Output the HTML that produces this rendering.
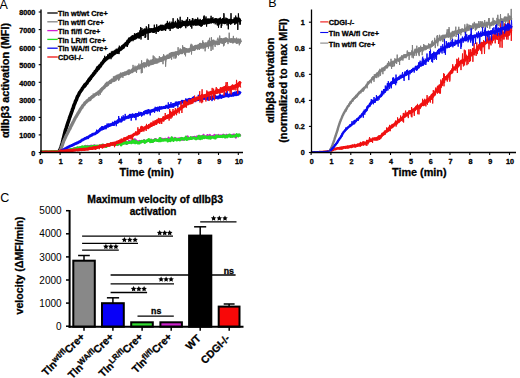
<!DOCTYPE html><html><head><meta charset="utf-8"><style>html,body{margin:0;padding:0;background:#fff;}svg{display:block;}text{font-family:"Liberation Sans", sans-serif;}text[font-weight=bold]{stroke:#000;stroke-width:0.3px;}</style></head><body>
<svg width="520" height="378" viewBox="0 0 520 378">
<text x="-0.5" y="8.7" font-size="12.5" fill="#000">A</text>
<polyline points="40.3,151.7 40.8,151.8 41.3,151.7 41.8,151.6 42.3,151.8 42.8,151.7 43.3,151.7 43.8,151.7 44.3,151.7 44.8,151.7 45.2,151.7 45.7,151.7 46.2,151.6 46.7,151.6 47.2,151.6 47.7,151.7 48.2,151.6 48.7,151.6 49.2,151.5 49.7,151.6 50.2,151.6 50.7,151.5 51.2,151.6 51.7,151.6 52.2,151.3 52.7,151.3 53.2,151.4 53.7,151.4 54.2,151.4 54.7,151.4 55.1,151.5 55.6,151.2 56.1,151.2 56.6,151.4 57.1,151.3 57.6,151.2 58.1,151.1 58.6,151.0 59.1,150.9 59.6,150.4" fill="none" stroke="#000" stroke-width="1.0" stroke-linejoin="round"/>
<polyline points="58.7,151.0 59.2,150.8 59.7,150.1 60.2,149.3 60.7,147.9 61.2,146.6 61.7,144.8 62.2,143.2 62.7,141.2 63.2,139.3 63.7,137.2 64.2,135.1 64.7,133.3 65.1,131.5 65.6,129.6 66.1,128.3 66.6,126.7 67.1,125.4 67.6,123.6 68.1,122.2 68.6,120.8 69.1,119.3 69.6,117.6 70.1,116.5 70.6,115.0 71.1,113.6 71.6,112.2 72.1,110.8 72.6,109.1 73.1,108.2 73.6,106.4 74.1,104.8 74.6,103.9 75.0,102.9 75.5,101.3 76.0,100.5 76.5,99.4 77.0,97.8 77.5,96.5 78.0,95.7 78.5,95.2 79.0,93.8 79.5,92.7 80.0,91.9 80.5,91.4 81.0,90.6 81.5,90.0 82.0,89.3 82.5,88.2 83.0,87.7 83.5,86.8 84.0,86.5 84.5,85.5 84.9,84.9 85.4,85.1 85.9,83.9 86.4,83.4 86.9,83.3 87.4,82.2 87.9,81.3 88.4,80.7 88.9,79.8 89.4,79.7 89.9,78.6 90.4,78.6 90.9,77.4 91.4,76.7 91.9,76.0 92.4,75.7 92.9,74.9 93.4,74.7 93.9,73.4 94.4,73.0 94.8,72.9 95.3,71.5 95.8,71.1 96.3,70.9 96.8,69.9 97.3,68.8 97.8,67.7 98.3,68.7 98.8,67.4 99.3,67.1 99.8,65.8 100.3,66.1 100.8,65.0 101.3,64.3 101.8,63.3 102.3,63.2 102.8,62.3 103.3,61.9 103.8,60.7 104.3,60.7 104.7,60.4 105.2,59.3 105.7,59.4 106.2,59.2 106.7,58.3 107.2,57.8 107.7,57.4 108.2,57.7 108.7,56.2 109.2,56.4 109.7,56.0 110.2,55.9 110.7,55.5 111.2,54.6 111.7,55.8 112.2,54.6 112.7,53.5 113.2,53.4 113.7,53.6 114.2,53.5 114.6,52.2 115.1,52.8 115.6,51.4 116.1,51.4 116.6,51.9 117.1,52.0 117.6,50.8 118.1,50.3 118.6,50.8 119.1,49.2 119.6,49.6 120.1,49.2 120.6,49.3 121.1,48.6 121.6,47.9 122.1,48.0 122.6,46.6 123.1,47.3 123.6,46.0 124.1,45.3 124.5,45.1 125.0,44.8 125.5,44.7 126.0,43.6 126.5,43.6 127.0,43.3 127.5,42.1 128.0,41.1 128.5,41.8 129.0,41.0 129.5,39.1 130.0,39.4 130.5,39.8 131.0,38.5 131.5,38.5 132.0,37.5 132.5,38.5 133.0,38.1 133.5,37.8 134.0,38.3 134.4,36.8 134.9,36.5 135.4,37.8 135.9,35.3 136.4,36.4 136.9,34.8 137.4,35.5 137.9,36.6 138.4,35.1 138.9,34.1 139.4,36.1 139.9,33.8 140.4,33.9 140.9,34.0 141.4,32.6 141.9,34.2 142.4,34.3 142.9,33.5 143.4,33.1 143.9,32.5 144.3,33.1 144.8,30.0 145.3,32.0 145.8,32.1 146.3,30.3 146.8,32.0 147.3,31.4 147.8,31.3 148.3,31.3 148.8,31.5 149.3,31.3 149.8,30.0 150.3,30.6 150.8,30.4 151.3,30.4 151.8,29.8 152.3,30.9 152.8,31.1 153.3,31.1 153.8,31.3 154.2,30.9 154.7,29.2 155.2,29.0 155.7,29.0 156.2,29.7 156.7,29.0 157.2,29.8 157.7,30.2 158.2,28.4 158.7,29.4 159.2,28.1 159.7,27.3 160.2,27.2 160.7,27.8 161.2,26.4 161.7,28.3 162.2,29.0 162.7,26.6 163.2,27.2 163.7,28.7 164.1,27.5 164.6,27.3 165.1,26.8 165.6,27.8 166.1,27.1 166.6,25.8 167.1,24.5 167.6,24.2 168.1,26.9 168.6,26.0 169.1,27.4 169.6,26.5 170.1,24.9 170.6,26.1 171.1,26.8 171.6,24.9 172.1,25.2 172.6,27.0 173.1,23.9 173.6,24.4 174.0,26.1 174.5,25.3 175.0,24.1 175.5,23.8 176.0,25.3 176.5,25.9 177.0,25.5 177.5,25.1 178.0,25.9 178.5,24.9 179.0,23.8 179.5,26.2 180.0,23.4 180.5,24.2 181.0,24.2 181.5,25.4 182.0,23.5 182.5,23.9 183.0,22.5 183.5,24.3 183.9,24.3 184.4,24.4 184.9,23.0 185.4,23.9 185.9,23.0 186.4,23.2 186.9,23.5 187.4,24.6 187.9,23.1 188.4,23.6 188.9,22.7 189.4,22.8 189.9,22.7 190.4,23.1 190.9,23.8 191.4,22.2 191.9,23.7 192.4,22.2 192.9,23.3 193.4,22.5 193.8,22.6 194.3,22.5 194.8,23.7 195.3,22.9 195.8,23.6 196.3,22.3 196.8,22.3 197.3,23.8 197.8,21.1 198.3,21.6 198.8,22.2 199.3,23.8 199.8,21.7 200.3,22.8 200.8,23.4 201.3,21.9 201.8,21.9 202.3,23.4 202.8,21.4 203.3,21.0 203.7,22.5 204.2,21.3 204.7,22.8 205.2,22.1 205.7,20.2 206.2,21.8 206.7,21.6 207.2,21.0 207.7,22.4 208.2,20.0 208.7,20.4 209.2,21.0 209.7,22.0 210.2,20.1 210.7,20.8 211.2,20.7 211.7,20.0 212.2,21.0 212.7,20.3 213.2,20.9 213.6,21.5 214.1,20.5 214.6,20.5 215.1,20.4 215.6,20.5 216.1,19.9 216.6,20.2 217.1,21.3 217.6,20.5 218.1,24.0 218.6,20.5 219.1,21.6 219.6,19.9 220.1,21.0 220.6,20.8 221.1,21.1 221.6,22.3 222.1,21.1 222.6,20.2 223.1,21.3 223.5,20.4 224.0,21.1 224.5,22.5 225.0,22.0 225.5,22.1 226.0,21.7 226.5,21.2 227.0,19.9 227.5,20.8 228.0,20.7 228.5,21.8 229.0,22.0 229.5,21.6 230.0,20.5 230.5,22.7 231.0,22.3 231.5,20.9 232.0,21.2 232.5,21.6 233.0,21.1 233.4,20.8 233.9,21.3 234.4,20.8 234.9,20.9 235.4,19.3 235.9,19.2 236.4,21.9 236.9,19.1 237.4,20.6 237.9,20.4 238.4,20.2 238.9,19.4 239.4,20.7 239.9,20.0 240.4,19.4" fill="none" stroke="#000" stroke-width="3.6" stroke-linejoin="round"/>
<polyline points="58.7,151.0 59.0,150.7 59.3,150.5 59.6,150.5 59.9,149.9 60.2,149.3 60.5,148.8 60.8,147.9 61.1,147.0 61.4,146.1 61.7,144.3 62.0,144.0 62.3,142.4 62.6,141.5 62.9,139.9 63.2,138.8 63.5,137.9 63.8,137.1 64.1,135.5 64.4,134.1 64.7,133.2 65.0,132.3 65.2,131.1 65.5,130.0 65.8,128.8 66.1,128.3 66.4,127.4 66.7,126.2 67.0,125.1 67.3,124.8 67.6,123.3 67.9,121.7 68.2,121.7 68.5,121.1 68.8,120.0 69.1,119.7 69.4,118.5 69.7,117.7 70.0,116.9 70.3,115.9 70.6,114.6 70.9,113.8 71.2,113.8 71.5,113.9 71.8,111.4 72.1,110.2 72.4,109.4 72.7,108.7 73.0,108.5 73.3,107.7 73.6,107.1 73.9,106.5 74.2,105.1 74.5,104.3 74.8,103.2 75.0,102.5 75.3,102.7 75.6,101.3 75.9,100.6 76.2,99.6 76.5,98.8 76.8,98.6 77.1,98.3 77.4,97.2 77.7,96.7 78.0,97.0 78.3,95.2 78.6,94.6 78.9,94.1 79.2,93.4 79.5,93.3 79.8,93.1 80.1,91.6 80.4,92.2 80.7,90.9 81.0,90.4 81.3,89.1 81.6,88.5 81.9,89.6 82.2,88.3 82.5,88.8 82.8,88.0 83.1,87.7 83.4,87.9 83.7,87.9 84.0,84.8 84.3,83.7 84.6,86.2 84.9,87.7 85.1,86.6 85.4,84.2 85.7,83.4 86.0,85.6 86.3,82.4 86.6,82.3 86.9,82.7 87.2,82.3 87.5,81.7 87.8,82.0 88.1,80.3 88.4,80.0 88.7,81.7 89.0,81.9 89.3,79.3 89.6,81.7 89.9,78.4 90.2,78.8 90.5,77.6 90.8,80.0 91.1,76.9 91.4,76.6 91.7,77.5 92.0,77.7 92.3,74.9 92.6,74.8 92.9,74.6 93.2,75.2 93.5,72.4 93.8,72.6 94.1,73.3 94.4,73.2 94.7,72.9 94.9,71.9 95.2,70.7 95.5,71.9 95.8,71.3 96.1,69.8 96.4,68.6 96.7,71.1 97.0,71.1 97.3,68.2 97.6,70.7 97.9,68.0 98.2,68.2 98.5,68.2 98.8,66.5 99.1,68.3 99.4,64.7 99.7,66.7 100.0,66.8 100.3,64.3 100.6,64.3 100.9,65.5 101.2,63.6 101.5,64.3 101.8,63.6 102.1,62.7 102.4,64.1 102.7,64.8 103.0,61.9 103.3,61.8 103.6,61.8 103.9,58.0 104.2,58.2 104.5,59.6 104.7,55.8 105.0,60.9 105.3,61.0 105.6,60.5 105.9,57.6 106.2,56.9 106.5,59.2 106.8,57.9 107.1,58.9 107.4,56.9 107.7,54.5 108.0,56.7 108.3,56.5 108.6,56.0 108.9,57.6 109.2,53.2 109.5,53.0 109.8,58.3 110.1,57.9 110.4,54.9 110.7,53.9 111.0,59.2 111.3,51.7 111.6,54.1 111.9,54.4 112.2,50.9 112.5,55.5 112.8,53.6 113.1,54.9 113.4,54.2 113.7,55.8 114.0,54.3 114.3,52.8 114.6,53.9 114.8,51.4 115.1,51.7 115.4,53.5 115.7,49.9 116.0,52.3 116.3,48.7 116.6,50.9 116.9,50.5 117.2,52.4 117.5,49.3 117.8,54.0 118.1,51.0 118.4,49.8 118.7,50.0 119.0,54.1 119.3,45.7 119.6,47.8 119.9,49.6 120.2,48.1 120.5,48.4 120.8,48.7 121.1,49.2 121.4,50.1 121.7,48.3 122.0,47.8 122.3,48.4 122.6,47.5 122.9,45.1 123.2,46.0 123.5,45.0 123.8,46.9 124.1,47.3 124.4,46.0 124.6,44.1 124.9,45.8 125.2,43.5 125.5,44.6 125.8,42.6 126.1,42.0 126.4,41.7 126.7,46.2 127.0,41.9 127.3,47.0 127.6,40.5 127.9,45.2 128.2,40.7 128.5,42.7 128.8,42.2 129.1,40.5 129.4,40.6 129.7,40.6 130.0,40.6 130.3,39.5 130.6,41.0 130.9,38.8 131.2,36.8 131.5,39.3 131.8,38.6 132.1,39.6 132.4,39.1 132.7,35.1 133.0,41.2 133.3,37.9 133.6,36.7 133.9,35.8 134.2,36.1 134.4,33.3 134.7,33.9 135.0,36.1 135.3,35.2 135.6,36.2 135.9,35.1 136.2,36.1 136.5,35.5 136.8,37.4 137.1,35.1 137.4,35.1 137.7,35.3 138.0,32.6 138.3,36.9 138.6,36.8 138.9,35.4 139.2,38.7 139.5,35.9 139.8,30.4 140.1,33.8 140.4,33.6 140.7,27.1 141.0,39.5 141.3,33.4 141.6,33.4 141.9,28.0 142.2,32.4 142.5,29.9 142.8,33.3 143.1,36.1 143.4,34.2 143.7,32.3 144.0,31.3 144.3,32.5 144.5,32.9 144.8,32.1 145.1,38.0 145.4,30.7 145.7,37.2 146.0,32.1 146.3,26.3 146.6,31.3 146.9,27.5 147.2,32.7 147.5,31.5 147.8,32.2 148.1,39.9 148.4,28.7 148.7,24.3 149.0,31.1 149.3,29.4 149.6,31.0 149.9,28.3 150.2,30.9 150.5,32.6 150.8,32.2 151.1,28.7 151.4,29.9 151.7,31.7 152.0,29.2 152.3,28.7 152.6,28.7 152.9,31.8 153.2,29.4 153.5,28.2 153.8,31.5 154.1,31.5 154.3,24.7 154.6,31.2 154.9,28.5 155.2,30.7 155.5,31.7 155.8,30.6 156.1,33.9 156.4,31.8 156.7,24.4 157.0,28.4 157.3,28.8 157.6,30.6 157.9,27.6 158.2,28.5 158.5,31.9 158.8,29.9 159.1,29.7 159.4,27.6 159.7,29.8 160.0,26.3 160.3,25.7 160.6,26.5 160.9,30.4 161.2,28.3 161.5,30.6 161.8,27.2 162.1,28.5 162.4,25.3 162.7,24.9 163.0,29.8 163.3,29.0 163.6,26.2 163.9,26.6 164.1,28.1 164.4,26.7 164.7,27.3 165.0,25.3 165.3,23.9 165.6,31.0 165.9,27.1 166.2,27.1 166.5,27.6 166.8,28.9 167.1,28.1 167.4,20.9 167.7,26.3 168.0,26.5 168.3,27.6 168.6,29.1 168.9,26.9 169.2,26.5 169.5,28.4 169.8,21.6 170.1,31.0 170.4,26.5 170.7,27.0 171.0,25.8 171.3,24.3 171.6,26.8 171.9,21.7 172.2,24.2 172.5,23.2 172.8,26.4 173.1,18.2 173.4,26.5 173.7,27.9 174.0,25.6 174.2,25.6 174.5,25.4 174.8,27.4 175.1,23.7 175.4,20.9 175.7,26.2 176.0,25.0 176.3,24.1 176.6,26.1 176.9,28.3 177.2,23.3 177.5,18.5 177.8,26.4 178.1,29.0 178.4,26.9 178.7,19.8 179.0,25.8 179.3,21.6 179.6,21.8 179.9,25.1 180.2,16.8 180.5,28.2 180.8,24.0 181.1,27.5 181.4,23.8 181.7,26.0 182.0,19.9 182.3,21.4 182.6,24.1 182.9,25.7 183.2,23.2 183.5,26.0 183.8,22.1 184.0,21.4 184.3,23.1 184.6,24.9 184.9,23.2 185.2,20.7 185.5,25.9 185.8,28.2 186.1,26.0 186.4,19.5 186.7,24.1 187.0,22.1 187.3,26.1 187.6,17.2 187.9,21.0 188.2,25.0 188.5,24.4 188.8,25.4 189.1,23.6 189.4,21.7 189.7,19.0 190.0,25.8 190.3,26.1 190.6,26.7 190.9,25.0 191.2,23.9 191.5,25.6 191.8,28.6 192.1,24.1 192.4,18.0 192.7,22.4 193.0,18.5 193.3,25.5 193.6,21.8 193.8,24.7 194.1,22.8 194.4,19.9 194.7,19.6 195.0,21.6 195.3,18.9 195.6,23.1 195.9,25.7 196.2,19.0 196.5,25.0 196.8,23.0 197.1,21.0 197.4,23.7 197.7,17.6 198.0,20.1 198.3,21.2 198.6,21.7 198.9,22.8 199.2,23.8 199.5,23.3 199.8,25.8 200.1,18.9 200.4,21.9 200.7,26.5 201.0,21.6 201.3,20.0 201.6,26.6 201.9,20.4 202.2,25.9 202.5,24.9 202.8,19.6 203.1,20.8 203.4,24.3 203.7,16.5 203.9,22.4 204.2,15.5 204.5,23.4 204.8,24.3 205.1,23.4 205.4,21.9 205.7,21.4 206.0,16.5 206.3,23.3 206.6,26.6 206.9,20.9 207.2,21.8 207.5,19.8 207.8,23.7 208.1,23.9 208.4,23.4 208.7,22.0 209.0,22.3 209.3,19.2 209.6,20.8 209.9,21.0 210.2,21.2 210.5,22.5 210.8,20.7 211.1,15.8 211.4,23.4 211.7,20.9 212.0,20.3 212.3,18.0 212.6,19.1 212.9,17.2 213.2,21.8 213.5,22.2 213.7,21.3 214.0,21.9 214.3,20.5 214.6,21.4 214.9,18.4 215.2,24.3 215.5,18.5 215.8,20.7 216.1,19.8 216.4,21.2 216.7,22.5 217.0,22.8 217.3,21.8 217.6,23.7 217.9,21.9 218.2,23.0 218.5,27.7 218.8,21.7 219.1,20.4 219.4,21.3 219.7,20.3 220.0,20.8 220.3,17.5 220.6,23.2 220.9,20.8 221.2,27.9 221.5,24.4 221.8,25.7 222.1,23.4 222.4,21.8 222.7,18.2 223.0,21.2 223.3,20.8 223.5,19.3 223.8,13.2 224.1,14.0 224.4,19.5 224.7,22.4 225.0,22.2 225.3,22.3 225.6,23.1 225.9,17.6 226.2,20.8 226.5,21.8 226.8,20.1 227.1,25.4 227.4,19.9 227.7,21.5 228.0,21.1 228.3,29.3 228.6,21.9 228.9,21.6 229.2,21.2 229.5,19.9 229.8,21.4 230.1,22.6 230.4,22.0 230.7,24.6 231.0,13.2 231.3,22.3 231.6,21.5 231.9,21.6 232.2,19.7 232.5,22.3 232.8,22.3 233.1,20.6 233.4,21.9 233.6,19.4 233.9,20.7 234.2,17.5 234.5,20.3 234.8,24.9 235.1,21.9 235.4,23.6 235.7,15.6 236.0,21.0 236.3,20.9 236.6,19.8 236.9,21.6 237.2,19.1 237.5,20.4 237.8,29.9 238.1,21.0 238.4,13.4 238.7,17.5 239.0,20.7 239.3,19.5 239.6,18.0 239.9,24.7 240.2,19.0 240.5,24.5" fill="none" stroke="#000" stroke-width="1.0" stroke-linejoin="round"/>
<polyline points="40.3,151.7 40.8,151.7 41.3,151.7 41.8,151.5 42.3,151.8 42.8,151.8 43.3,151.7 43.8,151.8 44.3,151.7 44.8,151.6 45.2,151.8 45.7,151.7 46.2,151.6 46.7,151.6 47.2,151.7 47.7,151.6 48.2,151.7 48.7,151.6 49.2,151.6 49.7,151.5 50.2,151.6 50.7,151.6 51.2,151.6 51.7,151.6 52.2,151.4 52.7,151.5 53.2,151.6 53.7,151.3 54.2,151.3 54.7,151.3 55.1,151.4 55.6,151.4 56.1,151.4 56.6,151.3 57.1,151.3 57.6,151.2 58.1,151.2 58.6,151.2 59.1,151.0 59.6,151.0" fill="none" stroke="#808080" stroke-width="1.0" stroke-linejoin="round"/>
<polyline points="58.7,151.1 59.2,151.1 59.7,150.8 60.2,150.4 60.7,149.5 61.2,148.2 61.7,146.9 62.2,145.4 62.7,143.9 63.2,142.4 63.7,140.9 64.2,140.1 64.7,138.9 65.1,138.2 65.6,137.0 66.1,135.9 66.6,134.8 67.1,134.0 67.6,132.8 68.1,132.1 68.6,130.9 69.1,130.0 69.6,128.8 70.1,128.4 70.6,127.0 71.1,126.0 71.6,125.3 72.1,124.0 72.6,123.3 73.1,122.1 73.6,121.4 74.1,120.2 74.6,119.2 75.0,118.5 75.5,117.4 76.0,116.9 76.5,116.0 77.0,115.2 77.5,114.3 78.0,113.4 78.5,112.6 79.0,112.0 79.5,110.9 80.0,109.9 80.5,109.1 81.0,108.5 81.5,107.6 82.0,107.5 82.5,106.1 83.0,105.4 83.5,105.0 84.0,104.7 84.5,103.8 84.9,103.1 85.4,102.6 85.9,102.2 86.4,102.1 86.9,101.1 87.4,100.9 87.9,100.3 88.4,100.1 88.9,99.7 89.4,98.7 89.9,99.5 90.4,98.4 90.9,97.8 91.4,97.4 91.9,97.2 92.4,96.9 92.9,96.8 93.4,96.2 93.9,96.0 94.4,95.0 94.8,94.9 95.3,94.5 95.8,94.5 96.3,94.3 96.8,93.3 97.3,93.4 97.8,93.4 98.3,93.1 98.8,91.9 99.3,92.1 99.8,91.6 100.3,90.8 100.8,91.2 101.3,89.5 101.8,89.3 102.3,89.0 102.8,88.4 103.3,87.7 103.8,87.8 104.3,87.2 104.7,86.5 105.2,86.0 105.7,85.1 106.2,84.2 106.7,85.2 107.2,83.5 107.7,84.5 108.2,83.1 108.7,82.9 109.2,82.4 109.7,82.5 110.2,81.5 110.7,82.3 111.2,81.4 111.7,80.9 112.2,80.2 112.7,80.3 113.2,79.9 113.7,80.5 114.2,79.8 114.6,78.2 115.1,79.4 115.6,77.2 116.1,78.9 116.6,76.8 117.1,77.5 117.6,77.6 118.1,76.9 118.6,76.0 119.1,77.0 119.6,75.1 120.1,75.0 120.6,76.2 121.1,74.7 121.6,75.0 122.1,75.1 122.6,74.3 123.1,74.4 123.6,74.1 124.1,74.0 124.5,74.4 125.0,74.1 125.5,73.6 126.0,73.8 126.5,72.8 127.0,72.5 127.5,72.2 128.0,73.1 128.5,73.5 129.0,72.4 129.5,70.9 130.0,71.6 130.5,72.0 131.0,71.6 131.5,71.2 132.0,71.5 132.5,71.2 133.0,69.5 133.5,70.4 134.0,69.3 134.4,69.7 134.9,70.0 135.4,70.1 135.9,69.1 136.4,68.1 136.9,67.9 137.4,68.2 137.9,66.9 138.4,67.3 138.9,67.6 139.4,67.6 139.9,66.5 140.4,66.8 140.9,67.2 141.4,66.3 141.9,64.7 142.4,65.8 142.9,65.6 143.4,65.0 143.9,65.1 144.3,63.8 144.8,65.6 145.3,64.8 145.8,63.9 146.3,64.3 146.8,64.1 147.3,63.2 147.8,61.6 148.3,61.3 148.8,64.9 149.3,62.3 149.8,62.8 150.3,63.4 150.8,62.5 151.3,63.6 151.8,61.8 152.3,62.9 152.8,60.7 153.3,62.8 153.8,62.6 154.2,62.3 154.7,62.1 155.2,61.9 155.7,62.3 156.2,62.2 156.7,60.5 157.2,62.0 157.7,60.1 158.2,60.9 158.7,60.3 159.2,60.8 159.7,59.9 160.2,60.3 160.7,59.3 161.2,58.7 161.7,60.2 162.2,59.6 162.7,59.3 163.2,59.4 163.7,57.5 164.1,59.0 164.6,57.1 165.1,58.1 165.6,57.4 166.1,57.6 166.6,57.8 167.1,57.0 167.6,56.0 168.1,57.4 168.6,57.4 169.1,56.8 169.6,56.9 170.1,54.3 170.6,55.7 171.1,55.3 171.6,53.6 172.1,55.2 172.6,54.9 173.1,53.4 173.6,53.8 174.0,54.4 174.5,54.7 175.0,54.6 175.5,52.9 176.0,52.7 176.5,53.0 177.0,53.3 177.5,52.6 178.0,52.8 178.5,53.4 179.0,53.2 179.5,52.6 180.0,51.3 180.5,51.7 181.0,52.4 181.5,52.5 182.0,52.5 182.5,50.5 183.0,50.9 183.5,50.1 183.9,48.5 184.4,49.9 184.9,49.1 185.4,51.6 185.9,50.7 186.4,49.6 186.9,50.0 187.4,50.2 187.9,51.1 188.4,50.2 188.9,50.7 189.4,49.6 189.9,50.2 190.4,50.1 190.9,49.6 191.4,48.7 191.9,49.4 192.4,48.0 192.9,49.4 193.4,47.8 193.8,47.4 194.3,49.4 194.8,47.3 195.3,47.7 195.8,46.5 196.3,46.7 196.8,46.9 197.3,46.2 197.8,48.0 198.3,46.2 198.8,45.7 199.3,47.6 199.8,47.1 200.3,44.4 200.8,45.8 201.3,47.0 201.8,45.4 202.3,45.7 202.8,45.7 203.3,43.8 203.7,44.9 204.2,46.2 204.7,46.6 205.2,45.2 205.7,45.1 206.2,45.6 206.7,45.1 207.2,45.3 207.7,44.0 208.2,44.6 208.7,44.9 209.2,44.9 209.7,43.0 210.2,44.8 210.7,44.1 211.2,44.0 211.7,42.2 212.2,43.6 212.7,42.1 213.2,41.1 213.6,43.1 214.1,42.9 214.6,42.7 215.1,42.6 215.6,42.3 216.1,43.0 216.6,42.5 217.1,43.1 217.6,43.6 218.1,42.0 218.6,41.9 219.1,42.7 219.6,40.3 220.1,40.7 220.6,41.2 221.1,39.6 221.6,41.7 222.1,42.2 222.6,39.8 223.1,40.1 223.5,41.5 224.0,41.8 224.5,39.3 225.0,41.1 225.5,40.4 226.0,39.0 226.5,40.2 227.0,40.1 227.5,40.6 228.0,40.5 228.5,40.3 229.0,40.4 229.5,40.3 230.0,40.9 230.5,41.3 231.0,41.3 231.5,39.7 232.0,39.9 232.5,40.0 233.0,41.8 233.4,41.1 233.9,40.1 234.4,39.8 234.9,40.0 235.4,41.0 235.9,40.1 236.4,41.1 236.9,42.3 237.4,41.0 237.9,42.0 238.4,40.0 238.9,41.6 239.4,41.6 239.9,40.6 240.4,42.5" fill="none" stroke="#808080" stroke-width="3.3" stroke-linejoin="round"/>
<polyline points="58.7,151.2 59.0,151.4 59.3,151.2 59.6,150.8 59.9,150.6 60.2,150.5 60.5,149.8 60.8,149.4 61.1,148.7 61.4,148.1 61.7,147.2 62.0,145.8 62.3,145.1 62.6,143.7 62.9,142.8 63.2,142.7 63.5,141.6 63.8,140.7 64.1,140.4 64.4,139.9 64.7,138.9 65.0,138.4 65.2,137.4 65.5,137.3 65.8,137.0 66.1,136.0 66.4,135.3 66.7,134.2 67.0,134.0 67.3,133.5 67.6,133.9 67.9,132.8 68.2,132.1 68.5,131.2 68.8,130.7 69.1,129.8 69.4,129.5 69.7,128.0 70.0,128.2 70.3,126.8 70.6,126.4 70.9,125.9 71.2,125.7 71.5,125.5 71.8,125.0 72.1,123.4 72.4,123.9 72.7,122.8 73.0,122.0 73.3,121.9 73.6,121.0 73.9,120.6 74.2,119.8 74.5,119.4 74.8,118.6 75.0,118.3 75.3,117.6 75.6,117.0 75.9,116.3 76.2,116.5 76.5,116.1 76.8,116.2 77.1,115.2 77.4,114.4 77.7,113.4 78.0,113.8 78.3,113.1 78.6,111.5 78.9,112.9 79.2,111.2 79.5,110.0 79.8,110.7 80.1,109.2 80.4,108.1 80.7,110.5 81.0,109.7 81.3,108.0 81.6,107.8 81.9,105.1 82.2,106.8 82.5,107.0 82.8,106.5 83.1,104.8 83.4,106.7 83.7,105.0 84.0,103.9 84.3,101.8 84.6,103.7 84.9,104.2 85.1,105.0 85.4,102.3 85.7,101.0 86.0,102.8 86.3,101.8 86.6,101.3 86.9,101.6 87.2,99.8 87.5,101.0 87.8,99.7 88.1,100.2 88.4,100.2 88.7,99.6 89.0,99.0 89.3,97.3 89.6,99.5 89.9,99.6 90.2,97.9 90.5,98.5 90.8,100.1 91.1,97.8 91.4,97.2 91.7,97.8 92.0,95.1 92.3,98.3 92.6,97.6 92.9,97.8 93.2,93.6 93.5,95.8 93.8,95.7 94.1,94.8 94.4,95.1 94.7,95.9 94.9,94.3 95.2,94.6 95.5,95.7 95.8,94.6 96.1,94.6 96.4,94.0 96.7,93.4 97.0,93.4 97.3,91.9 97.6,92.8 97.9,93.1 98.2,92.5 98.5,94.4 98.8,95.9 99.1,92.6 99.4,90.8 99.7,91.4 100.0,92.7 100.3,94.7 100.6,89.7 100.9,90.7 101.2,90.0 101.5,87.7 101.8,89.6 102.1,90.7 102.4,88.1 102.7,88.1 103.0,88.8 103.3,87.3 103.6,87.0 103.9,87.3 104.2,85.5 104.5,86.8 104.7,85.0 105.0,85.8 105.3,86.2 105.6,86.7 105.9,84.2 106.2,84.9 106.5,81.9 106.8,82.6 107.1,83.9 107.4,83.9 107.7,84.0 108.0,85.1 108.3,83.2 108.6,82.8 108.9,82.6 109.2,82.4 109.5,82.7 109.8,83.5 110.1,80.8 110.4,81.7 110.7,81.1 111.0,79.6 111.3,81.2 111.6,78.8 111.9,81.0 112.2,81.7 112.5,79.4 112.8,79.4 113.1,79.9 113.4,76.4 113.7,79.5 114.0,81.6 114.3,77.2 114.6,79.3 114.8,78.7 115.1,76.3 115.4,80.0 115.7,81.2 116.0,78.8 116.3,77.2 116.6,78.4 116.9,78.4 117.2,74.6 117.5,78.0 117.8,76.8 118.1,75.7 118.4,76.6 118.7,80.8 119.0,76.8 119.3,76.2 119.6,79.5 119.9,76.6 120.2,75.9 120.5,73.4 120.8,72.5 121.1,73.3 121.4,76.8 121.7,75.5 122.0,72.8 122.3,75.3 122.6,72.7 122.9,77.9 123.2,72.1 123.5,73.8 123.8,74.7 124.1,74.7 124.4,71.6 124.6,76.0 124.9,74.0 125.2,72.7 125.5,71.6 125.8,74.8 126.1,73.3 126.4,72.3 126.7,71.8 127.0,72.7 127.3,70.8 127.6,72.0 127.9,70.5 128.2,69.7 128.5,72.1 128.8,72.2 129.1,72.2 129.4,70.8 129.7,70.1 130.0,72.6 130.3,73.4 130.6,72.2 130.9,70.3 131.2,71.2 131.5,70.4 131.8,69.1 132.1,69.4 132.4,69.8 132.7,71.1 133.0,64.9 133.3,67.5 133.6,69.9 133.9,67.3 134.2,70.8 134.4,69.6 134.7,69.4 135.0,65.7 135.3,69.3 135.6,69.7 135.9,71.0 136.2,69.2 136.5,73.0 136.8,69.4 137.1,67.5 137.4,68.5 137.7,68.5 138.0,68.7 138.3,66.8 138.6,68.7 138.9,63.6 139.2,69.4 139.5,67.7 139.8,66.9 140.1,65.4 140.4,64.6 140.7,65.6 141.0,65.2 141.3,73.3 141.6,60.3 141.9,63.8 142.2,72.9 142.5,63.1 142.8,64.6 143.1,66.0 143.4,65.2 143.7,65.5 144.0,67.1 144.3,68.2 144.5,65.0 144.8,65.1 145.1,64.0 145.4,63.6 145.7,63.6 146.0,64.4 146.3,67.2 146.6,64.3 146.9,59.9 147.2,58.7 147.5,63.0 147.8,63.0 148.1,62.6 148.4,66.4 148.7,63.9 149.0,61.1 149.3,64.4 149.6,62.0 149.9,62.6 150.2,64.6 150.5,64.1 150.8,59.7 151.1,63.0 151.4,64.5 151.7,60.8 152.0,61.6 152.3,64.3 152.6,60.1 152.9,64.8 153.2,55.5 153.5,60.8 153.8,61.0 154.1,56.3 154.3,62.9 154.6,62.3 154.9,61.8 155.2,57.6 155.5,58.7 155.8,60.2 156.1,62.9 156.4,59.1 156.7,58.5 157.0,60.6 157.3,59.1 157.6,62.0 157.9,61.8 158.2,59.4 158.5,59.4 158.8,58.8 159.1,59.1 159.4,56.1 159.7,58.7 160.0,61.9 160.3,58.8 160.6,60.2 160.9,57.4 161.2,59.5 161.5,58.3 161.8,58.1 162.1,57.9 162.4,59.3 162.7,58.0 163.0,64.2 163.3,56.8 163.6,54.2 163.9,55.7 164.1,58.6 164.4,57.5 164.7,57.0 165.0,56.4 165.3,57.0 165.6,66.7 165.9,62.5 166.2,60.1 166.5,58.9 166.8,57.2 167.1,58.6 167.4,56.1 167.7,57.6 168.0,58.3 168.3,59.0 168.6,57.0 168.9,56.7 169.2,55.6 169.5,55.3 169.8,56.0 170.1,55.4 170.4,56.8 170.7,55.9 171.0,54.9 171.3,57.7 171.6,59.7 171.9,56.0 172.2,55.7 172.5,53.7 172.8,54.6 173.1,54.9 173.4,53.4 173.7,52.1 174.0,58.6 174.2,53.0 174.5,53.4 174.8,53.4 175.1,53.7 175.4,55.1 175.7,58.6 176.0,52.4 176.3,57.5 176.6,54.3 176.9,52.8 177.2,54.9 177.5,53.4 177.8,54.4 178.1,47.2 178.4,55.6 178.7,52.3 179.0,50.8 179.3,50.9 179.6,51.0 179.9,52.8 180.2,48.4 180.5,50.4 180.8,53.8 181.1,53.9 181.4,50.0 181.7,52.0 182.0,52.0 182.3,51.2 182.6,45.3 182.9,52.7 183.2,47.2 183.5,51.5 183.8,52.4 184.0,49.4 184.3,49.4 184.6,54.6 184.9,49.1 185.2,52.5 185.5,56.3 185.8,50.6 186.1,49.9 186.4,50.1 186.7,48.9 187.0,50.1 187.3,49.6 187.6,49.0 187.9,49.2 188.2,51.1 188.5,49.6 188.8,49.2 189.1,52.6 189.4,49.3 189.7,50.3 190.0,47.7 190.3,47.3 190.6,44.9 190.9,50.5 191.2,43.8 191.5,54.5 191.8,49.9 192.1,44.6 192.4,49.5 192.7,46.6 193.0,48.9 193.3,50.3 193.6,47.7 193.8,47.4 194.1,48.2 194.4,45.6 194.7,48.2 195.0,48.3 195.3,49.5 195.6,46.5 195.9,48.2 196.2,46.2 196.5,48.1 196.8,46.1 197.1,45.3 197.4,46.0 197.7,49.6 198.0,49.3 198.3,47.0 198.6,47.0 198.9,47.3 199.2,44.2 199.5,49.9 199.8,44.9 200.1,44.4 200.4,46.1 200.7,44.7 201.0,46.8 201.3,47.3 201.6,45.6 201.9,46.3 202.2,45.0 202.5,43.1 202.8,40.4 203.1,49.1 203.4,45.5 203.7,42.6 203.9,43.7 204.2,44.1 204.5,46.7 204.8,45.6 205.1,51.3 205.4,48.4 205.7,42.4 206.0,46.0 206.3,47.1 206.6,44.3 206.9,44.5 207.2,42.1 207.5,46.1 207.8,43.3 208.1,40.6 208.4,48.6 208.7,42.3 209.0,39.8 209.3,42.6 209.6,37.8 209.9,45.4 210.2,41.4 210.5,44.5 210.8,44.1 211.1,51.0 211.4,37.2 211.7,46.3 212.0,41.2 212.3,45.7 212.6,43.7 212.9,49.7 213.2,40.6 213.5,41.3 213.7,44.4 214.0,40.7 214.3,44.1 214.6,44.5 214.9,46.3 215.2,46.9 215.5,45.7 215.8,40.9 216.1,43.3 216.4,43.0 216.7,41.7 217.0,42.1 217.3,39.1 217.6,39.8 217.9,37.7 218.2,40.2 218.5,42.5 218.8,44.7 219.1,40.1 219.4,44.9 219.7,35.6 220.0,39.0 220.3,38.9 220.6,42.8 220.9,41.6 221.2,38.3 221.5,41.8 221.8,41.9 222.1,40.0 222.4,43.7 222.7,39.3 223.0,40.0 223.3,41.0 223.5,46.3 223.8,40.3 224.1,45.6 224.4,39.5 224.7,41.4 225.0,40.3 225.3,40.5 225.6,42.9 225.9,40.3 226.2,37.9 226.5,38.0 226.8,40.2 227.1,41.8 227.4,38.7 227.7,41.2 228.0,44.1 228.3,41.3 228.6,41.4 228.9,40.1 229.2,32.7 229.5,39.6 229.8,40.5 230.1,38.5 230.4,40.7 230.7,39.1 231.0,41.8 231.3,40.5 231.6,40.8 231.9,41.1 232.2,40.2 232.5,43.1 232.8,38.6 233.1,39.1 233.4,35.9 233.6,40.8 233.9,38.4 234.2,42.3 234.5,40.4 234.8,41.8 235.1,39.8 235.4,40.0 235.7,41.4 236.0,40.2 236.3,39.9 236.6,37.7 236.9,42.4 237.2,40.7 237.5,41.8 237.8,39.8 238.1,41.9 238.4,39.8 238.7,41.8 239.0,39.5 239.3,45.3 239.6,42.9 239.9,41.4 240.2,38.5 240.5,43.7" fill="none" stroke="#808080" stroke-width="1.0" stroke-linejoin="round"/>
<polyline points="40.3,151.8 41.1,151.6 41.9,151.7 42.7,151.7 43.5,151.7 44.3,151.7 45.1,151.6 45.8,151.7 46.6,151.6 47.4,151.9 48.2,151.7 49.0,151.6 49.8,151.6 50.6,151.6 51.4,151.5 52.2,151.6 53.0,151.6 53.8,151.6 54.6,151.6 55.3,151.6 56.1,151.5 56.9,151.6 57.7,151.5 58.5,151.4 59.3,151.4 60.1,151.4 60.9,151.5 61.7,151.3 62.5,151.2 63.3,151.2 64.1,150.9 64.9,150.6 65.6,150.9 66.4,150.7 67.2,150.5 68.0,150.4 68.8,149.7 69.6,150.1 70.4,149.6 71.2,149.3 72.0,149.5 72.8,149.3 73.6,148.9 74.4,148.2 75.1,148.6 75.9,148.4 76.7,148.6 77.5,147.7 78.3,148.0 79.1,148.0 79.9,147.5 80.7,147.2 81.5,147.4 82.3,147.3 83.1,147.0 83.9,147.4 84.7,146.9 85.4,146.0 86.2,146.9 87.0,147.4 87.8,146.1 88.6,146.5 89.4,146.2 90.2,146.7 91.0,145.7 91.8,146.0 92.6,146.6 93.4,146.1 94.2,145.4 94.9,146.0 95.7,146.3 96.5,145.9 97.3,146.7 98.1,146.4 98.9,146.1 99.7,145.5 100.5,146.4 101.3,145.8 102.1,145.5 102.9,144.8 103.7,146.2 104.5,145.7 105.2,145.6 106.0,145.7 106.8,145.2 107.6,144.6 108.4,144.4 109.2,144.3 110.0,145.3 110.8,143.7 111.6,144.0 112.4,144.0 113.2,143.4 114.0,144.3 114.7,143.1 115.5,142.7 116.3,143.6 117.1,144.2 117.9,145.0 118.7,143.4 119.5,142.9 120.3,143.2 121.1,142.8 121.9,143.3 122.7,142.2 123.5,142.7 124.3,142.5 125.0,142.8 125.8,142.5 126.6,143.8 127.4,143.1 128.2,143.0 129.0,140.8 129.8,141.8 130.6,141.5 131.4,142.1 132.2,140.4 133.0,142.4 133.8,142.3 134.5,139.4 135.3,139.6 136.1,140.9 136.9,141.4 137.7,141.7 138.5,142.5 139.3,141.1 140.1,141.6 140.9,141.2 141.7,142.1 142.5,141.4 143.3,141.7 144.1,140.2 144.8,140.7 145.6,141.7 146.4,141.6 147.2,141.0 148.0,140.4 148.8,140.2 149.6,140.8 150.4,140.0 151.2,139.8 152.0,140.6 152.8,141.7 153.6,140.1 154.3,139.8 155.1,139.4 155.9,139.3 156.7,140.3 157.5,140.5 158.3,139.9 159.1,140.1 159.9,139.9 160.7,139.8 161.5,138.8 162.3,139.4 163.1,139.7 163.9,139.1 164.6,139.2 165.4,139.0 166.2,139.2 167.0,139.9 167.8,140.2 168.6,137.8 169.4,140.7 170.2,139.6 171.0,140.1 171.8,137.8 172.6,139.5 173.4,138.7 174.1,139.0 174.9,138.0 175.7,139.5 176.5,139.4 177.3,138.8 178.1,139.6 178.9,138.5 179.7,138.5 180.5,139.0 181.3,138.1 182.1,139.7 182.9,139.0 183.7,139.6 184.4,138.3 185.2,138.0 186.0,138.3 186.8,138.6 187.6,136.5 188.4,138.3 189.2,139.1 190.0,138.9 190.8,137.5 191.6,138.5 192.4,137.4 193.2,137.2 193.9,137.3 194.7,136.9 195.5,137.7 196.3,138.2 197.1,136.6 197.9,137.8 198.7,138.4 199.5,136.0 200.3,137.4 201.1,137.1 201.9,136.2 202.7,137.6 203.5,135.0 204.2,137.4 205.0,137.0 205.8,137.6 206.6,136.9 207.4,135.2 208.2,137.0 209.0,136.4 209.8,135.1 210.6,136.7 211.4,136.5 212.2,136.4 213.0,136.0 213.7,136.4 214.5,135.1 215.3,136.3 216.1,135.6 216.9,136.9 217.7,137.0 218.5,135.0 219.3,136.2 220.1,136.0 220.9,135.4 221.7,136.3 222.5,135.7 223.3,134.8 224.0,135.7 224.8,135.7 225.6,137.2 226.4,135.0 227.2,136.0 228.0,136.0 228.8,134.9 229.6,135.1 230.4,135.4 231.2,135.1 232.0,136.4 232.8,135.4 233.5,134.6 234.3,134.7 235.1,135.1 235.9,137.4 236.7,134.9 237.5,135.1 238.3,135.2 239.1,134.9 239.9,135.0 240.7,134.4" fill="none" stroke="#d21fd2" stroke-width="2.4" stroke-linejoin="round"/>
<polyline points="40.3,151.7 41.1,151.7 41.9,151.8 42.7,151.7 43.5,151.6 44.3,151.7 45.1,151.7 45.8,151.7 46.6,151.6 47.4,151.7 48.2,151.7 49.0,151.7 49.8,151.7 50.6,151.7 51.4,151.5 52.2,151.7 53.0,151.5 53.8,151.6 54.6,151.5 55.3,151.5 56.1,151.5 56.9,151.5 57.7,151.5 58.5,151.6 59.3,151.5 60.1,151.3 60.9,151.4 61.7,151.2 62.5,151.3 63.3,151.0 64.1,151.0 64.9,150.9 65.6,150.6 66.4,150.8 67.2,150.5 68.0,150.5 68.8,150.3 69.6,149.9 70.4,149.7 71.2,149.3 72.0,149.6 72.8,149.4 73.6,149.0 74.4,148.8 75.1,148.6 75.9,148.4 76.7,148.3 77.5,147.8 78.3,148.5 79.1,147.7 79.9,147.6 80.7,147.7 81.5,147.2 82.3,146.6 83.1,147.2 83.9,147.3 84.7,146.6 85.4,147.3 86.2,146.7 87.0,146.9 87.8,147.0 88.6,146.9 89.4,147.0 90.2,146.7 91.0,146.6 91.8,146.7 92.6,146.2 93.4,146.9 94.2,146.2 94.9,146.0 95.7,147.2 96.5,146.3 97.3,145.9 98.1,147.0 98.9,146.1 99.7,145.8 100.5,145.8 101.3,145.9 102.1,145.2 102.9,145.0 103.7,145.3 104.5,145.6 105.2,146.0 106.0,146.6 106.8,144.9 107.6,145.7 108.4,144.8 109.2,145.0 110.0,144.2 110.8,144.0 111.6,144.3 112.4,143.9 113.2,144.4 114.0,143.9 114.7,144.9 115.5,144.2 116.3,144.0 117.1,144.5 117.9,144.0 118.7,143.6 119.5,143.4 120.3,143.3 121.1,145.0 121.9,143.6 122.7,143.3 123.5,143.5 124.3,141.1 125.0,143.1 125.8,141.9 126.6,143.4 127.4,142.6 128.2,142.6 129.0,142.7 129.8,142.3 130.6,142.1 131.4,142.9 132.2,142.2 133.0,140.1 133.8,142.3 134.5,140.9 135.3,142.9 136.1,141.7 136.9,141.8 137.7,143.1 138.5,143.0 139.3,143.2 140.1,141.9 140.9,142.2 141.7,141.1 142.5,141.3 143.3,141.4 144.1,140.7 144.8,142.5 145.6,141.7 146.4,141.5 147.2,140.4 148.0,140.5 148.8,139.4 149.6,140.8 150.4,141.7 151.2,140.2 152.0,141.6 152.8,141.4 153.6,140.7 154.3,140.7 155.1,139.7 155.9,140.1 156.7,140.4 157.5,140.5 158.3,140.8 159.1,140.9 159.9,138.4 160.7,140.8 161.5,139.8 162.3,140.1 163.1,140.4 163.9,140.1 164.6,140.0 165.4,140.2 166.2,139.6 167.0,139.5 167.8,141.1 168.6,140.4 169.4,139.7 170.2,140.8 171.0,139.8 171.8,137.8 172.6,139.3 173.4,140.5 174.1,139.5 174.9,139.1 175.7,138.8 176.5,140.1 177.3,139.9 178.1,139.6 178.9,139.4 179.7,140.0 180.5,139.5 181.3,138.3 182.1,138.3 182.9,139.0 183.7,138.8 184.4,139.3 185.2,138.8 186.0,137.0 186.8,139.6 187.6,139.2 188.4,138.5 189.2,138.3 190.0,138.6 190.8,137.6 191.6,138.6 192.4,138.2 193.2,138.1 193.9,137.7 194.7,137.8 195.5,138.8 196.3,138.9 197.1,138.3 197.9,137.9 198.7,136.3 199.5,138.3 200.3,138.8 201.1,136.8 201.9,138.4 202.7,136.4 203.5,137.4 204.2,137.8 205.0,136.7 205.8,136.6 206.6,137.5 207.4,137.9 208.2,137.0 209.0,138.1 209.8,136.8 210.6,138.2 211.4,137.2 212.2,137.2 213.0,137.4 213.7,137.2 214.5,138.0 215.3,138.2 216.1,135.9 216.9,136.7 217.7,136.0 218.5,136.2 219.3,136.7 220.1,136.5 220.9,136.5 221.7,136.5 222.5,136.8 223.3,135.6 224.0,135.7 224.8,137.0 225.6,136.8 226.4,135.9 227.2,136.9 228.0,135.7 228.8,135.9 229.6,134.9 230.4,136.5 231.2,135.9 232.0,136.5 232.8,136.3 233.5,135.8 234.3,135.8 235.1,136.4 235.9,135.5 236.7,134.5 237.5,135.6 238.3,136.0 239.1,134.8 239.9,135.4 240.7,135.3" fill="none" stroke="#22dd22" stroke-width="2.8" stroke-linejoin="round"/>
<polyline points="40.3,151.7 40.8,151.6 41.3,151.7 41.8,151.7 42.3,151.8 42.8,151.7 43.3,151.7 43.8,151.7 44.3,151.7 44.8,151.8 45.2,151.7 45.7,151.6 46.2,151.6 46.7,151.8 47.2,151.7 47.7,151.6 48.2,151.7 48.7,151.6 49.2,151.6 49.7,151.6 50.2,151.6 50.7,151.7 51.2,151.6 51.7,151.6 52.2,151.6 52.7,151.6 53.2,151.5 53.7,151.6 54.2,151.5 54.7,151.5 55.1,151.5 55.6,151.5 56.1,151.5 56.6,151.5 57.1,151.4 57.6,151.5 58.1,151.4 58.6,151.4 59.1,151.4 59.6,151.3" fill="none" stroke="#0a0af0" stroke-width="1.0" stroke-linejoin="round"/>
<polyline points="58.7,151.4 59.2,151.5 59.7,151.4 60.2,151.2 60.7,151.1 61.2,150.8 61.7,150.6 62.2,150.3 62.7,150.2 63.2,150.0 63.7,149.6 64.2,149.4 64.7,148.9 65.1,148.7 65.6,148.3 66.1,148.3 66.6,147.9 67.1,147.7 67.6,147.3 68.1,147.2 68.6,146.9 69.1,146.6 69.6,146.3 70.1,146.2 70.6,145.9 71.1,145.7 71.6,145.5 72.1,145.2 72.6,145.2 73.1,144.6 73.6,144.7 74.1,144.3 74.6,144.1 75.0,143.7 75.5,143.7 76.0,143.4 76.5,143.3 77.0,142.9 77.5,142.7 78.0,142.8 78.5,142.3 79.0,141.9 79.5,141.9 80.0,141.4 80.5,141.3 81.0,141.0 81.5,140.5 82.0,139.9 82.5,139.9 83.0,139.8 83.5,139.3 84.0,139.2 84.5,139.0 84.9,138.4 85.4,138.5 85.9,138.4 86.4,138.1 86.9,137.9 87.4,137.6 87.9,137.7 88.4,136.9 88.9,136.6 89.4,136.5 89.9,135.9 90.4,135.5 90.9,135.4 91.4,135.5 91.9,135.3 92.4,134.5 92.9,134.1 93.4,134.3 93.9,134.1 94.4,133.9 94.8,133.9 95.3,133.7 95.8,133.1 96.3,132.9 96.8,132.1 97.3,131.7 97.8,131.8 98.3,131.5 98.8,131.0 99.3,130.5 99.8,130.2 100.3,129.9 100.8,128.7 101.3,128.8 101.8,129.0 102.3,128.8 102.8,127.7 103.3,128.5 103.8,127.7 104.3,127.5 104.7,127.5 105.2,127.5 105.7,126.4 106.2,127.2 106.7,126.6 107.2,126.1 107.7,126.1 108.2,125.1 108.7,125.5 109.2,125.6 109.7,125.0 110.2,125.0 110.7,124.8 111.2,124.6 111.7,124.8 112.2,124.1 112.7,123.8 113.2,123.9 113.7,124.4 114.2,123.1 114.6,123.2 115.1,122.0 115.6,123.1 116.1,122.6 116.6,122.7 117.1,121.8 117.6,121.1 118.1,121.8 118.6,121.5 119.1,120.5 119.6,119.9 120.1,120.7 120.6,120.1 121.1,121.3 121.6,119.5 122.1,119.3 122.6,119.2 123.1,118.2 123.6,118.4 124.1,119.4 124.5,118.3 125.0,117.8 125.5,117.2 126.0,117.9 126.5,117.8 127.0,117.4 127.5,116.8 128.0,117.0 128.5,116.9 129.0,116.2 129.5,116.7 130.0,115.2 130.5,115.5 131.0,115.9 131.5,116.0 132.0,115.3 132.5,116.0 133.0,116.3 133.5,115.9 134.0,115.7 134.4,116.0 134.9,115.7 135.4,114.8 135.9,115.1 136.4,115.8 136.9,114.4 137.4,114.9 137.9,114.5 138.4,114.2 138.9,114.0 139.4,114.4 139.9,114.3 140.4,114.2 140.9,113.2 141.4,113.6 141.9,113.8 142.4,113.9 142.9,113.6 143.4,113.6 143.9,113.5 144.3,113.3 144.8,112.3 145.3,112.6 145.8,112.0 146.3,111.1 146.8,111.3 147.3,113.0 147.8,111.3 148.3,110.5 148.8,111.2 149.3,112.1 149.8,111.2 150.3,111.2 150.8,110.8 151.3,110.7 151.8,111.2 152.3,110.8 152.8,110.2 153.3,110.6 153.8,110.5 154.2,109.7 154.7,109.8 155.2,109.7 155.7,109.1 156.2,109.9 156.7,109.1 157.2,108.7 157.7,108.0 158.2,108.1 158.7,109.4 159.2,107.9 159.7,108.6 160.2,108.1 160.7,108.4 161.2,108.3 161.7,107.5 162.2,107.7 162.7,107.7 163.2,107.6 163.7,107.4 164.1,107.2 164.6,107.5 165.1,107.7 165.6,107.2 166.1,106.5 166.6,106.9 167.1,106.6 167.6,106.7 168.1,107.3 168.6,106.1 169.1,106.1 169.6,105.5 170.1,105.7 170.6,105.4 171.1,106.4 171.6,105.6 172.1,105.0 172.6,106.2 173.1,104.4 173.6,105.4 174.0,105.3 174.5,105.0 175.0,104.4 175.5,104.3 176.0,104.1 176.5,104.5 177.0,102.8 177.5,103.5 178.0,103.7 178.5,103.2 179.0,102.4 179.5,103.0 180.0,102.5 180.5,103.1 181.0,103.2 181.5,102.4 182.0,101.2 182.5,101.9 183.0,101.3 183.5,102.0 183.9,102.3 184.4,101.5 184.9,102.2 185.4,101.8 185.9,101.3 186.4,100.4 186.9,100.9 187.4,100.0 187.9,101.2 188.4,100.6 188.9,101.1 189.4,100.5 189.9,99.3 190.4,100.5 190.9,100.6 191.4,100.9 191.9,99.5 192.4,99.4 192.9,99.8 193.4,99.2 193.8,99.0 194.3,99.1 194.8,100.8 195.3,99.1 195.8,98.9 196.3,99.1 196.8,99.2 197.3,99.8 197.8,99.6 198.3,99.4 198.8,99.0 199.3,99.0 199.8,98.5 200.3,98.0 200.8,99.8 201.3,98.4 201.8,99.1 202.3,98.4 202.8,98.5 203.3,98.4 203.7,97.7 204.2,98.3 204.7,98.5 205.2,98.7 205.7,98.5 206.2,98.7 206.7,98.3 207.2,98.1 207.7,97.0 208.2,97.7 208.7,98.7 209.2,97.9 209.7,98.2 210.2,97.7 210.7,97.4 211.2,98.7 211.7,97.8 212.2,98.3 212.7,97.8 213.2,97.3 213.6,96.3 214.1,97.4 214.6,96.5 215.1,96.2 215.6,97.8 216.1,97.5 216.6,97.4 217.1,97.1 217.6,97.0 218.1,97.1 218.6,96.9 219.1,96.8 219.6,97.1 220.1,95.4 220.6,97.0 221.1,96.2 221.6,96.9 222.1,97.0 222.6,95.9 223.1,96.7 223.5,96.6 224.0,95.8 224.5,95.8 225.0,96.0 225.5,94.8 226.0,95.6 226.5,95.8 227.0,95.4 227.5,94.8 228.0,95.3 228.5,96.2 229.0,96.0 229.5,95.2 230.0,94.8 230.5,95.1 231.0,95.0 231.5,94.6 232.0,94.6 232.5,95.0 233.0,95.1 233.4,93.3 233.9,94.9 234.4,94.4 234.9,94.8 235.4,94.1 235.9,94.2 236.4,94.7 236.9,92.3 237.4,94.5 237.9,93.7 238.4,92.6 238.9,92.0 239.4,93.4 239.9,92.5 240.4,93.4" fill="none" stroke="#0a0af0" stroke-width="2.8" stroke-linejoin="round"/>
<polyline points="58.7,151.4 59.0,151.6 59.3,151.6 59.6,151.3 59.9,151.3 60.2,151.6 60.5,151.1 60.8,151.1 61.1,150.8 61.4,150.9 61.7,150.8 62.0,150.2 62.3,150.5 62.6,150.2 62.9,149.9 63.2,149.9 63.5,149.5 63.8,149.4 64.1,149.0 64.4,149.1 64.7,148.8 65.0,148.7 65.2,149.2 65.5,148.5 65.8,148.1 66.1,148.7 66.4,148.2 66.7,147.8 67.0,147.6 67.3,147.5 67.6,147.1 67.9,147.4 68.2,147.1 68.5,146.9 68.8,146.8 69.1,146.6 69.4,146.9 69.7,146.3 70.0,145.8 70.3,146.1 70.6,146.2 70.9,146.0 71.2,145.6 71.5,145.6 71.8,146.7 72.1,145.0 72.4,145.2 72.7,145.0 73.0,144.7 73.3,144.6 73.6,144.2 73.9,144.9 74.2,143.6 74.5,144.1 74.8,144.8 75.0,143.6 75.3,144.1 75.6,143.6 75.9,143.3 76.2,142.8 76.5,143.2 76.8,142.7 77.1,143.0 77.4,142.9 77.7,142.1 78.0,142.9 78.3,142.2 78.6,142.2 78.9,142.1 79.2,141.7 79.5,142.1 79.8,142.2 80.1,142.6 80.4,142.5 80.7,141.8 81.0,141.2 81.3,140.6 81.6,141.0 81.9,140.4 82.2,140.1 82.5,139.3 82.8,139.9 83.1,139.2 83.4,139.5 83.7,139.2 84.0,139.8 84.3,139.6 84.6,139.5 84.9,138.7 85.1,138.5 85.4,137.1 85.7,138.3 86.0,137.6 86.3,136.7 86.6,137.1 86.9,137.0 87.2,136.4 87.5,137.3 87.8,138.4 88.1,139.1 88.4,136.9 88.7,137.0 89.0,135.9 89.3,136.9 89.6,136.1 89.9,136.2 90.2,136.2 90.5,135.9 90.8,135.5 91.1,136.0 91.4,135.9 91.7,133.8 92.0,134.8 92.3,134.9 92.6,134.5 92.9,134.8 93.2,135.1 93.5,134.5 93.8,134.1 94.1,134.7 94.4,134.2 94.7,134.0 94.9,134.9 95.2,134.2 95.5,134.3 95.8,134.0 96.1,132.4 96.4,132.9 96.7,129.7 97.0,133.0 97.3,130.9 97.6,133.5 97.9,133.1 98.2,131.8 98.5,131.1 98.8,130.1 99.1,130.3 99.4,130.8 99.7,128.3 100.0,129.0 100.3,130.5 100.6,129.1 100.9,130.0 101.2,127.5 101.5,126.4 101.8,128.6 102.1,129.6 102.4,130.2 102.7,126.1 103.0,128.5 103.3,127.6 103.6,127.6 103.9,129.5 104.2,127.4 104.5,125.8 104.7,127.9 105.0,128.7 105.3,127.1 105.6,126.5 105.9,129.3 106.2,127.6 106.5,125.1 106.8,126.2 107.1,123.5 107.4,127.0 107.7,125.2 108.0,125.7 108.3,127.4 108.6,125.3 108.9,123.4 109.2,125.9 109.5,126.3 109.8,126.2 110.1,126.5 110.4,124.5 110.7,125.3 111.0,123.2 111.3,124.6 111.6,124.3 111.9,125.9 112.2,124.4 112.5,121.8 112.8,123.5 113.1,122.9 113.4,123.1 113.7,122.8 114.0,125.9 114.3,122.6 114.6,123.0 114.8,123.8 115.1,121.6 115.4,121.8 115.7,121.2 116.0,124.3 116.3,126.2 116.6,122.5 116.9,121.9 117.2,120.8 117.5,122.6 117.8,123.5 118.1,119.2 118.4,121.3 118.7,116.0 119.0,119.2 119.3,120.2 119.6,118.4 119.9,119.5 120.2,120.6 120.5,119.9 120.8,119.0 121.1,120.6 121.4,118.7 121.7,116.5 122.0,121.3 122.3,120.9 122.6,119.5 122.9,120.3 123.2,115.3 123.5,118.6 123.8,119.1 124.1,119.0 124.4,119.0 124.6,117.0 124.9,119.2 125.2,113.9 125.5,117.8 125.8,118.0 126.1,118.7 126.4,117.0 126.7,117.8 127.0,116.5 127.3,118.4 127.6,116.2 127.9,116.6 128.2,116.9 128.5,117.4 128.8,118.9 129.1,117.1 129.4,116.8 129.7,115.3 130.0,117.7 130.3,116.5 130.6,117.9 130.9,116.3 131.2,120.7 131.5,117.4 131.8,115.7 132.1,117.9 132.4,113.5 132.7,114.1 133.0,116.1 133.3,113.8 133.6,114.6 133.9,114.8 134.2,116.2 134.4,115.2 134.7,118.0 135.0,116.1 135.3,115.6 135.6,113.2 135.9,120.2 136.2,115.7 136.5,114.6 136.8,115.5 137.1,114.6 137.4,115.1 137.7,114.1 138.0,117.0 138.3,114.5 138.6,115.2 138.9,111.7 139.2,115.5 139.5,116.0 139.8,114.7 140.1,113.6 140.4,114.6 140.7,114.1 141.0,115.0 141.3,114.4 141.6,116.6 141.9,113.7 142.2,115.8 142.5,113.7 142.8,112.8 143.1,113.5 143.4,114.0 143.7,111.0 144.0,115.4 144.3,111.8 144.5,112.7 144.8,112.1 145.1,110.4 145.4,111.6 145.7,110.9 146.0,112.0 146.3,111.8 146.6,113.4 146.9,112.2 147.2,111.4 147.5,111.4 147.8,111.3 148.1,111.2 148.4,112.1 148.7,109.1 149.0,111.7 149.3,112.3 149.6,110.7 149.9,111.1 150.2,115.4 150.5,111.5 150.8,112.9 151.1,111.4 151.4,110.5 151.7,109.8 152.0,111.4 152.3,109.5 152.6,109.6 152.9,110.1 153.2,111.0 153.5,110.7 153.8,109.3 154.1,109.8 154.3,112.3 154.6,112.9 154.9,109.9 155.2,106.8 155.5,110.2 155.8,108.0 156.1,108.9 156.4,107.3 156.7,110.0 157.0,108.8 157.3,109.5 157.6,111.5 157.9,109.1 158.2,108.9 158.5,108.1 158.8,108.8 159.1,108.0 159.4,111.7 159.7,106.3 160.0,106.2 160.3,107.9 160.6,107.9 160.9,108.0 161.2,107.8 161.5,108.4 161.8,107.1 162.1,107.4 162.4,108.0 162.7,109.2 163.0,107.8 163.3,107.2 163.6,107.1 163.9,108.7 164.1,106.5 164.4,106.5 164.7,106.8 165.0,106.1 165.3,106.5 165.6,107.2 165.9,106.5 166.2,104.8 166.5,107.0 166.8,107.4 167.1,106.0 167.4,108.2 167.7,106.6 168.0,106.6 168.3,102.4 168.6,108.5 168.9,108.1 169.2,107.3 169.5,107.7 169.8,105.2 170.1,107.5 170.4,103.7 170.7,103.3 171.0,102.1 171.3,105.7 171.6,106.3 171.9,105.1 172.2,106.7 172.5,105.5 172.8,104.7 173.1,104.2 173.4,103.9 173.7,107.7 174.0,103.4 174.2,105.4 174.5,102.9 174.8,103.3 175.1,105.1 175.4,101.7 175.7,106.2 176.0,104.8 176.3,104.1 176.6,104.7 176.9,105.4 177.2,103.1 177.5,103.1 177.8,107.5 178.1,105.7 178.4,102.3 178.7,102.3 179.0,103.9 179.3,104.1 179.6,103.8 179.9,102.7 180.2,102.4 180.5,102.4 180.8,101.4 181.1,102.7 181.4,104.0 181.7,102.3 182.0,103.0 182.3,102.2 182.6,101.3 182.9,102.5 183.2,101.8 183.5,101.1 183.8,102.3 184.0,101.2 184.3,101.7 184.6,100.9 184.9,102.8 185.2,102.2 185.5,101.5 185.8,98.4 186.1,100.8 186.4,102.9 186.7,100.0 187.0,102.3 187.3,99.9 187.6,99.2 187.9,101.5 188.2,100.3 188.5,98.3 188.8,99.2 189.1,102.6 189.4,99.8 189.7,101.2 190.0,99.6 190.3,99.6 190.6,103.0 190.9,98.3 191.2,99.3 191.5,101.1 191.8,99.8 192.1,98.6 192.4,96.9 192.7,99.1 193.0,99.5 193.3,98.2 193.6,100.5 193.8,96.2 194.1,98.9 194.4,99.8 194.7,99.5 195.0,99.1 195.3,98.4 195.6,102.1 195.9,98.4 196.2,100.6 196.5,100.9 196.8,98.1 197.1,100.1 197.4,100.7 197.7,99.4 198.0,98.4 198.3,94.8 198.6,100.7 198.9,99.7 199.2,99.4 199.5,96.9 199.8,98.9 200.1,97.0 200.4,99.2 200.7,97.5 201.0,98.3 201.3,99.5 201.6,98.0 201.9,98.2 202.2,99.2 202.5,99.3 202.8,97.9 203.1,99.6 203.4,95.4 203.7,95.2 203.9,98.8 204.2,98.8 204.5,95.3 204.8,98.0 205.1,98.9 205.4,98.3 205.7,95.4 206.0,97.1 206.3,98.1 206.6,97.7 206.9,98.7 207.2,98.3 207.5,99.5 207.8,97.4 208.1,100.9 208.4,98.4 208.7,97.9 209.0,98.6 209.3,96.3 209.6,97.5 209.9,99.7 210.2,98.4 210.5,97.8 210.8,98.8 211.1,97.6 211.4,96.6 211.7,97.8 212.0,101.1 212.3,97.2 212.6,99.1 212.9,97.8 213.2,97.4 213.5,96.8 213.7,99.5 214.0,99.7 214.3,93.9 214.6,97.3 214.9,96.5 215.2,98.4 215.5,97.1 215.8,98.1 216.1,97.0 216.4,96.2 216.7,98.6 217.0,97.2 217.3,96.8 217.6,96.1 217.9,99.4 218.2,98.1 218.5,96.6 218.8,99.1 219.1,98.5 219.4,97.0 219.7,97.4 220.0,96.4 220.3,97.3 220.6,95.5 220.9,95.6 221.2,98.9 221.5,96.8 221.8,97.3 222.1,97.5 222.4,96.9 222.7,96.2 223.0,97.2 223.3,96.0 223.5,96.2 223.8,96.0 224.1,97.2 224.4,96.7 224.7,92.6 225.0,95.2 225.3,95.7 225.6,93.5 225.9,95.8 226.2,91.9 226.5,95.9 226.8,95.3 227.1,90.7 227.4,93.2 227.7,95.8 228.0,94.5 228.3,94.0 228.6,96.4 228.9,93.9 229.2,94.7 229.5,95.7 229.8,95.5 230.1,93.4 230.4,95.9 230.7,96.4 231.0,94.2 231.3,96.7 231.6,94.9 231.9,93.6 232.2,96.2 232.5,94.5 232.8,94.1 233.1,96.5 233.4,96.0 233.6,94.2 233.9,95.6 234.2,94.3 234.5,91.9 234.8,95.1 235.1,91.6 235.4,94.5 235.7,94.3 236.0,93.6 236.3,94.1 236.6,94.6 236.9,92.2 237.2,92.4 237.5,93.5 237.8,93.3 238.1,93.4 238.4,93.8 238.7,95.4 239.0,92.8 239.3,93.4 239.6,93.9 239.9,92.6 240.2,92.5 240.5,93.1" fill="none" stroke="#0a0af0" stroke-width="1.0" stroke-linejoin="round"/>
<polyline points="40.3,151.6 40.8,151.7 41.3,151.3 41.8,151.5 42.3,151.6 42.8,151.7 43.3,151.6 43.8,151.7 44.3,151.5 44.8,151.6 45.2,151.5 45.7,151.4 46.2,151.4 46.7,151.5 47.2,151.4 47.7,151.6 48.2,151.6 48.7,151.6 49.2,151.5 49.7,151.6 50.2,151.4 50.7,151.4 51.2,151.5 51.7,151.5 52.2,151.3 52.7,151.3 53.2,151.4 53.7,151.3 54.2,151.5 54.7,151.4 55.1,151.4 55.6,151.4 56.1,151.4 56.6,151.3 57.1,151.4 57.6,151.3 58.1,151.3 58.6,151.2 59.1,151.3 59.6,151.3 60.1,151.2 60.6,151.4 61.1,151.2" fill="none" stroke="#f01010" stroke-width="1.8" stroke-linejoin="round"/>
<polyline points="60.1,151.4 60.6,150.9 61.1,151.3 61.6,151.2 62.1,151.2 62.6,151.1 63.1,151.2 63.6,151.0 64.1,150.9 64.6,150.9 65.0,150.9 65.5,150.7 66.0,150.7 66.5,150.8 67.0,150.7 67.5,150.5 68.0,150.5 68.5,150.3 69.0,150.7 69.5,150.4 70.0,150.6 70.5,150.4 71.0,150.6 71.5,150.5 72.0,150.3 72.5,150.4 73.0,150.1 73.5,150.3 74.0,149.9 74.5,150.1 74.9,150.2 75.4,150.1 75.9,149.9 76.4,149.8 76.9,149.9 77.4,150.0 77.9,150.0 78.4,149.8 78.9,149.5 79.4,149.8 79.9,149.4 80.4,149.5 80.9,149.5 81.4,149.7 81.9,149.5 82.4,149.5 82.9,149.4 83.4,149.2 83.9,149.4 84.4,149.5 84.8,149.2 85.3,149.3 85.8,149.1 86.3,149.2 86.8,149.1 87.3,149.1 87.8,148.9 88.3,149.1 88.8,148.6 89.3,148.6 89.8,148.5 90.3,148.6 90.8,148.3 91.3,148.2 91.8,148.5 92.3,148.5 92.8,148.3 93.3,147.5 93.8,147.8 94.3,147.6 94.7,147.5 95.2,147.6 95.7,148.1 96.2,147.4 96.7,147.2 97.2,147.5 97.7,147.2 98.2,147.1 98.7,146.7 99.2,146.7 99.7,146.6 100.2,145.9 100.7,145.9 101.2,146.5 101.7,146.3 102.2,145.9 102.7,145.6 103.2,145.8 103.7,145.4 104.2,145.5 104.6,146.0 105.1,145.5 105.6,145.7 106.1,145.3 106.6,145.3 107.1,145.5 107.6,144.7 108.1,144.9 108.6,144.8 109.1,144.8 109.6,145.1 110.1,144.7 110.6,144.0 111.1,144.2 111.6,143.9 112.1,143.7 112.6,144.5 113.1,143.4 113.6,143.7 114.1,143.2 114.5,143.6 115.0,143.2 115.5,143.0 116.0,142.8 116.5,143.0 117.0,142.2 117.5,142.0 118.0,141.7 118.5,142.4 119.0,141.6 119.5,141.2 120.0,141.2 120.5,142.0 121.0,140.9 121.5,141.1 122.0,140.7 122.5,140.3 123.0,139.9 123.5,139.8 124.0,139.5 124.4,138.6 124.9,140.1 125.4,139.3 125.9,138.7 126.4,138.3 126.9,137.9 127.4,138.3 127.9,137.6 128.4,137.6 128.9,136.6 129.4,137.0 129.9,137.4 130.4,136.3 130.9,136.5 131.4,135.9 131.9,136.1 132.4,135.8 132.9,135.2 133.4,134.7 133.9,134.8 134.3,134.4 134.8,133.9 135.3,134.0 135.8,133.7 136.3,132.9 136.8,133.0 137.3,133.9 137.8,132.8 138.3,132.2 138.8,132.9 139.3,131.3 139.8,130.2 140.3,130.1 140.8,129.9 141.3,130.4 141.8,130.4 142.3,128.7 142.8,129.9 143.3,128.6 143.8,128.9 144.2,128.7 144.7,128.4 145.2,128.0 145.7,127.8 146.2,126.9 146.7,127.3 147.2,127.3 147.7,127.1 148.2,127.6 148.7,126.6 149.2,126.2 149.7,126.4 150.2,125.5 150.7,124.5 151.2,123.8 151.7,125.3 152.2,124.7 152.7,124.6 153.2,123.8 153.7,123.9 154.1,124.4 154.6,123.4 155.1,122.4 155.6,122.5 156.1,123.2 156.6,121.7 157.1,120.7 157.6,120.6 158.1,120.8 158.6,121.7 159.1,121.1 159.6,120.4 160.1,119.9 160.6,120.3 161.1,120.0 161.6,119.6 162.1,119.5 162.6,119.0 163.1,120.1 163.6,117.6 164.0,118.7 164.5,117.9 165.0,118.5 165.5,117.8 166.0,117.8 166.5,117.7 167.0,117.2 167.5,117.4 168.0,115.8 168.5,116.8 169.0,115.9 169.5,115.9 170.0,116.3 170.5,115.8 171.0,116.0 171.5,113.3 172.0,113.7 172.5,114.5 173.0,113.0 173.5,113.3 173.9,114.0 174.4,113.3 174.9,111.9 175.4,112.4 175.9,112.2 176.4,111.5 176.9,111.1 177.4,110.9 177.9,109.6 178.4,110.2 178.9,109.1 179.4,109.6 179.9,109.2 180.4,108.0 180.9,108.5 181.4,107.9 181.9,107.3 182.4,107.3 182.9,106.3 183.4,105.9 183.8,105.8 184.3,105.4 184.8,105.8 185.3,103.3 185.8,104.3 186.3,102.9 186.8,103.6 187.3,103.8 187.8,103.3 188.3,103.7 188.8,103.0 189.3,100.8 189.8,101.5 190.3,103.0 190.8,102.8 191.3,101.6 191.8,100.3 192.3,102.4 192.8,99.4 193.3,100.7 193.7,100.3 194.2,100.2 194.7,99.1 195.2,99.3 195.7,100.1 196.2,98.8 196.7,98.0 197.2,98.7 197.7,98.5 198.2,98.1 198.7,97.5 199.2,98.1 199.7,97.5 200.2,96.5 200.7,97.2 201.2,96.9 201.7,96.8 202.2,95.3 202.7,95.7 203.2,96.3 203.6,96.5 204.1,95.9 204.6,95.6 205.1,95.8 205.6,95.8 206.1,96.2 206.6,95.1 207.1,94.2 207.6,94.8 208.1,92.9 208.6,94.2 209.1,93.7 209.6,93.9 210.1,94.1 210.6,93.6 211.1,92.4 211.6,93.1 212.1,92.6 212.6,93.0 213.1,93.2 213.5,92.1 214.0,93.2 214.5,93.5 215.0,92.2 215.5,92.8 216.0,91.0 216.5,91.6 217.0,92.5 217.5,90.4 218.0,91.2 218.5,90.7 219.0,92.1 219.5,92.0 220.0,90.5 220.5,90.9 221.0,88.6 221.5,91.1 222.0,90.6 222.5,91.2 223.0,88.2 223.4,90.1 223.9,89.4 224.4,87.5 224.9,88.9 225.4,89.2 225.9,89.8 226.4,89.1 226.9,88.4 227.4,89.1 227.9,88.5 228.4,87.9 228.9,87.5 229.4,88.3 229.9,88.2 230.4,89.4 230.9,87.4 231.4,88.9 231.9,87.7 232.4,88.2 232.9,86.3 233.3,86.2 233.8,86.4 234.3,87.2 234.8,86.4 235.3,86.7 235.8,86.1 236.3,86.4 236.8,85.4 237.3,84.5 237.8,85.1 238.3,84.4 238.8,85.4 239.3,83.2 239.8,82.8 240.3,81.7" fill="none" stroke="#f01010" stroke-width="3.0" stroke-linejoin="round"/>
<polyline points="60.1,151.4 60.4,151.3 60.7,151.3 61.0,150.6 61.3,151.4 61.6,150.8 61.9,151.4 62.2,151.0 62.5,150.3 62.8,150.8 63.1,150.7 63.4,150.9 63.7,151.7 64.0,151.0 64.3,151.1 64.6,150.8 64.9,150.9 65.1,150.8 65.4,150.5 65.7,150.1 66.0,150.6 66.3,150.9 66.6,150.6 66.9,150.6 67.2,150.8 67.5,151.7 67.8,150.5 68.1,150.5 68.4,150.6 68.7,150.8 69.0,150.2 69.3,150.1 69.6,151.2 69.9,150.4 70.2,150.4 70.5,149.8 70.8,150.2 71.1,150.3 71.4,150.1 71.7,150.2 72.0,150.2 72.3,151.2 72.6,150.5 72.9,149.8 73.2,151.0 73.5,151.3 73.8,150.2 74.1,149.8 74.4,150.9 74.7,149.8 74.9,149.2 75.2,150.2 75.5,150.3 75.8,150.2 76.1,149.6 76.4,150.5 76.7,150.2 77.0,149.9 77.3,149.8 77.6,150.2 77.9,149.7 78.2,149.7 78.5,149.8 78.8,150.3 79.1,149.2 79.4,148.9 79.7,148.9 80.0,149.3 80.3,149.7 80.6,150.0 80.9,149.1 81.2,149.9 81.5,150.0 81.8,149.3 82.1,149.3 82.4,149.4 82.7,148.6 83.0,150.3 83.3,149.5 83.6,148.8 83.9,150.9 84.2,149.4 84.5,149.1 84.8,150.6 85.0,149.6 85.3,148.9 85.6,148.7 85.9,149.8 86.2,149.2 86.5,148.8 86.8,149.7 87.1,147.9 87.4,148.4 87.7,150.3 88.0,148.9 88.3,148.9 88.6,148.5 88.9,149.5 89.2,148.4 89.5,146.8 89.8,148.9 90.1,149.0 90.4,148.8 90.7,149.1 91.0,147.6 91.3,148.3 91.6,147.8 91.9,147.6 92.2,149.5 92.5,148.5 92.8,148.2 93.1,149.4 93.4,147.6 93.7,148.2 94.0,148.3 94.3,149.1 94.6,148.7 94.8,147.8 95.1,150.0 95.4,149.5 95.7,148.1 96.0,146.8 96.3,148.3 96.6,147.9 96.9,147.8 97.2,146.6 97.5,147.6 97.8,146.4 98.1,146.7 98.4,146.3 98.7,147.8 99.0,147.0 99.3,149.2 99.6,147.3 99.9,145.8 100.2,146.4 100.5,146.6 100.8,146.4 101.1,145.8 101.4,146.3 101.7,146.2 102.0,145.5 102.3,148.6 102.6,145.0 102.9,145.8 103.2,145.7 103.5,145.9 103.8,148.1 104.1,145.3 104.4,145.5 104.6,145.9 104.9,144.5 105.2,145.0 105.5,145.8 105.8,147.1 106.1,144.7 106.4,145.6 106.7,144.6 107.0,145.1 107.3,143.3 107.6,146.4 107.9,144.4 108.2,145.4 108.5,145.0 108.8,146.6 109.1,144.5 109.4,145.6 109.7,144.2 110.0,143.2 110.3,144.3 110.6,142.6 110.9,144.9 111.2,143.2 111.5,145.1 111.8,144.0 112.1,142.5 112.4,143.0 112.7,144.1 113.0,144.4 113.3,143.6 113.6,143.7 113.9,142.7 114.2,144.1 114.5,147.2 114.7,145.1 115.0,143.2 115.3,146.0 115.6,142.6 115.9,143.1 116.2,142.8 116.5,141.6 116.8,142.1 117.1,142.4 117.4,142.3 117.7,141.9 118.0,142.1 118.3,142.6 118.6,140.4 118.9,140.1 119.2,141.3 119.5,141.6 119.8,139.7 120.1,141.6 120.4,142.2 120.7,140.1 121.0,139.2 121.3,138.5 121.6,141.7 121.9,142.7 122.2,140.8 122.5,140.4 122.8,139.5 123.1,140.6 123.4,141.7 123.7,139.9 124.0,140.5 124.3,139.6 124.5,138.6 124.8,139.5 125.1,140.0 125.4,139.9 125.7,137.5 126.0,139.0 126.3,138.9 126.6,138.1 126.9,139.9 127.2,137.4 127.5,137.2 127.8,139.5 128.1,137.8 128.4,137.2 128.7,137.6 129.0,138.3 129.3,137.0 129.6,137.6 129.9,137.3 130.2,136.2 130.5,137.8 130.8,136.6 131.1,139.4 131.4,137.2 131.7,135.5 132.0,135.0 132.3,137.3 132.6,139.8 132.9,135.3 133.2,134.8 133.5,136.3 133.8,134.2 134.1,133.3 134.3,133.9 134.6,134.6 134.9,134.3 135.2,134.3 135.5,134.7 135.8,131.3 136.1,135.4 136.4,132.4 136.7,133.1 137.0,133.7 137.3,132.5 137.6,132.1 137.9,127.3 138.2,132.7 138.5,132.3 138.8,134.2 139.1,129.2 139.4,132.9 139.7,130.8 140.0,130.5 140.3,131.6 140.6,126.6 140.9,130.3 141.2,130.2 141.5,125.9 141.8,129.7 142.1,129.5 142.4,126.3 142.7,129.3 143.0,129.9 143.3,129.9 143.6,128.9 143.9,131.5 144.2,126.4 144.4,129.4 144.7,128.5 145.0,128.3 145.3,128.9 145.6,127.1 145.9,126.9 146.2,131.0 146.5,123.9 146.8,127.9 147.1,127.1 147.4,125.4 147.7,125.8 148.0,127.5 148.3,125.5 148.6,124.0 148.9,126.3 149.2,125.8 149.5,125.6 149.8,125.4 150.1,125.0 150.4,125.5 150.7,126.0 151.0,122.9 151.3,123.2 151.6,127.0 151.9,122.9 152.2,125.7 152.5,124.4 152.8,124.9 153.1,120.8 153.4,122.7 153.7,124.4 154.0,123.7 154.2,123.9 154.5,122.2 154.8,123.0 155.1,120.1 155.4,121.2 155.7,123.1 156.0,120.8 156.3,123.4 156.6,124.7 156.9,120.7 157.2,121.9 157.5,122.5 157.8,120.7 158.1,122.6 158.4,117.9 158.7,121.0 159.0,122.3 159.3,121.2 159.6,123.8 159.9,118.3 160.2,121.0 160.5,120.8 160.8,119.1 161.1,123.6 161.4,118.9 161.7,124.0 162.0,120.0 162.3,118.1 162.6,119.5 162.9,118.9 163.2,118.1 163.5,119.3 163.8,121.3 164.0,117.6 164.3,117.6 164.6,118.3 164.9,116.3 165.2,113.0 165.5,114.3 165.8,118.3 166.1,117.4 166.4,116.9 166.7,115.2 167.0,118.0 167.3,115.6 167.6,115.2 167.9,117.3 168.2,115.2 168.5,114.7 168.8,116.0 169.1,120.6 169.4,115.9 169.7,108.9 170.0,115.4 170.3,114.4 170.6,110.9 170.9,118.8 171.2,115.2 171.5,112.4 171.8,115.2 172.1,117.4 172.4,113.5 172.7,112.5 173.0,109.0 173.3,114.1 173.6,112.4 173.9,111.1 174.1,115.5 174.4,113.8 174.7,113.1 175.0,114.0 175.3,108.0 175.6,111.2 175.9,110.4 176.2,111.5 176.5,115.2 176.8,113.2 177.1,110.2 177.4,112.6 177.7,108.6 178.0,112.2 178.3,109.3 178.6,110.0 178.9,108.4 179.2,113.5 179.5,110.4 179.8,108.7 180.1,108.7 180.4,109.7 180.7,107.7 181.0,101.6 181.3,108.6 181.6,105.0 181.9,113.0 182.2,105.7 182.5,106.0 182.8,104.7 183.1,108.0 183.4,104.7 183.7,101.2 183.9,106.3 184.2,107.4 184.5,105.5 184.8,99.9 185.1,103.6 185.4,103.9 185.7,100.9 186.0,103.7 186.3,107.7 186.6,104.4 186.9,103.6 187.2,105.3 187.5,102.5 187.8,103.4 188.1,104.2 188.4,102.7 188.7,102.9 189.0,100.2 189.3,102.5 189.6,101.8 189.9,103.5 190.2,101.8 190.5,102.2 190.8,103.9 191.1,99.8 191.4,101.6 191.7,99.6 192.0,100.5 192.3,100.8 192.6,99.7 192.9,101.8 193.2,99.6 193.5,100.1 193.7,100.5 194.0,100.0 194.3,100.6 194.6,95.6 194.9,101.5 195.2,100.4 195.5,100.3 195.8,100.0 196.1,99.1 196.4,99.3 196.7,99.8 197.0,100.6 197.3,99.8 197.6,98.1 197.9,99.2 198.2,96.9 198.5,98.6 198.8,97.8 199.1,97.9 199.4,97.7 199.7,91.2 200.0,102.5 200.3,97.0 200.6,97.5 200.9,97.7 201.2,96.7 201.5,95.9 201.8,103.2 202.1,89.3 202.4,99.8 202.7,102.1 203.0,96.7 203.3,95.6 203.6,95.8 203.8,95.0 204.1,97.5 204.4,96.8 204.7,94.9 205.0,95.4 205.3,95.3 205.6,94.7 205.9,101.5 206.2,94.7 206.5,96.4 206.8,90.4 207.1,93.4 207.4,95.1 207.7,96.8 208.0,94.9 208.3,93.9 208.6,92.7 208.9,97.5 209.2,100.8 209.5,94.4 209.8,91.5 210.1,94.6 210.4,91.7 210.7,93.8 211.0,93.5 211.3,99.5 211.6,98.7 211.9,92.2 212.2,87.9 212.5,93.7 212.8,92.9 213.1,90.6 213.4,97.9 213.6,88.7 213.9,93.0 214.2,92.0 214.5,100.4 214.8,96.0 215.1,91.4 215.4,93.5 215.7,93.9 216.0,88.2 216.3,87.1 216.6,91.7 216.9,93.6 217.2,88.9 217.5,88.7 217.8,90.4 218.1,89.5 218.4,90.4 218.7,90.7 219.0,90.1 219.3,91.0 219.6,90.6 219.9,94.0 220.2,90.3 220.5,90.3 220.8,89.5 221.1,92.4 221.4,91.1 221.7,88.7 222.0,92.7 222.3,91.0 222.6,89.1 222.9,89.8 223.2,87.7 223.4,88.5 223.7,88.3 224.0,95.6 224.3,93.0 224.6,90.6 224.9,89.8 225.2,89.3 225.5,85.1 225.8,90.2 226.1,82.2 226.4,92.7 226.7,88.1 227.0,85.6 227.3,82.1 227.6,84.5 227.9,89.3 228.2,91.1 228.5,89.0 228.8,87.4 229.1,89.0 229.4,89.5 229.7,88.6 230.0,92.7 230.3,91.9 230.6,89.9 230.9,86.4 231.2,94.5 231.5,86.0 231.8,85.4 232.1,86.3 232.4,84.5 232.7,87.9 233.0,86.2 233.3,89.4 233.5,86.7 233.8,86.9 234.1,90.1 234.4,85.9 234.7,86.2 235.0,87.1 235.3,84.2 235.6,86.6 235.9,90.4 236.2,87.5 236.5,79.9 236.8,82.3 237.1,83.8 237.4,83.0 237.7,93.7 238.0,82.9 238.3,86.0 238.6,87.5 238.9,83.9 239.2,83.5 239.5,86.3 239.8,81.0 240.1,81.8 240.4,85.3 240.7,87.7" fill="none" stroke="#f01010" stroke-width="1.0" stroke-linejoin="round"/>
<line x1="41.0" y1="9.6" x2="41.0" y2="153.2" stroke="#000" stroke-width="1.4"/>
<line x1="39.9" y1="152.5" x2="243" y2="152.5" stroke="#000" stroke-width="1.4"/>
<line x1="38.7" y1="152.5" x2="41.0" y2="152.5" stroke="#000" stroke-width="1.1"/>
<text x="35.2" y="155.9" font-size="7.2" font-weight="bold" text-anchor="end">0</text>
<line x1="38.7" y1="134.9" x2="41.0" y2="134.9" stroke="#000" stroke-width="1.1"/>
<text x="35.2" y="138.3" font-size="7.2" font-weight="bold" text-anchor="end">1000</text>
<line x1="38.7" y1="117.4" x2="41.0" y2="117.4" stroke="#000" stroke-width="1.1"/>
<text x="35.2" y="120.8" font-size="7.2" font-weight="bold" text-anchor="end">2000</text>
<line x1="38.7" y1="99.8" x2="41.0" y2="99.8" stroke="#000" stroke-width="1.1"/>
<text x="35.2" y="103.2" font-size="7.2" font-weight="bold" text-anchor="end">3000</text>
<line x1="38.7" y1="82.3" x2="41.0" y2="82.3" stroke="#000" stroke-width="1.1"/>
<text x="35.2" y="85.7" font-size="7.2" font-weight="bold" text-anchor="end">4000</text>
<line x1="38.7" y1="64.7" x2="41.0" y2="64.7" stroke="#000" stroke-width="1.1"/>
<text x="35.2" y="68.1" font-size="7.2" font-weight="bold" text-anchor="end">5000</text>
<line x1="38.7" y1="47.1" x2="41.0" y2="47.1" stroke="#000" stroke-width="1.1"/>
<text x="35.2" y="50.5" font-size="7.2" font-weight="bold" text-anchor="end">6000</text>
<line x1="38.7" y1="29.6" x2="41.0" y2="29.6" stroke="#000" stroke-width="1.1"/>
<text x="35.2" y="33.0" font-size="7.2" font-weight="bold" text-anchor="end">7000</text>
<line x1="38.7" y1="12.0" x2="41.0" y2="12.0" stroke="#000" stroke-width="1.1"/>
<text x="35.2" y="15.4" font-size="7.2" font-weight="bold" text-anchor="end">8000</text>
<line x1="40.3" y1="152.5" x2="40.3" y2="155" stroke="#000" stroke-width="1.1"/>
<text x="41.0" y="164.4" font-size="7.2" font-weight="bold" text-anchor="middle">0</text>
<line x1="60.1" y1="152.5" x2="60.1" y2="155" stroke="#000" stroke-width="1.1"/>
<text x="60.8" y="164.4" font-size="7.2" font-weight="bold" text-anchor="middle">1</text>
<line x1="79.9" y1="152.5" x2="79.9" y2="155" stroke="#000" stroke-width="1.1"/>
<text x="80.6" y="164.4" font-size="7.2" font-weight="bold" text-anchor="middle">2</text>
<line x1="99.7" y1="152.5" x2="99.7" y2="155" stroke="#000" stroke-width="1.1"/>
<text x="100.4" y="164.4" font-size="7.2" font-weight="bold" text-anchor="middle">3</text>
<line x1="119.5" y1="152.5" x2="119.5" y2="155" stroke="#000" stroke-width="1.1"/>
<text x="120.2" y="164.4" font-size="7.2" font-weight="bold" text-anchor="middle">4</text>
<line x1="139.3" y1="152.5" x2="139.3" y2="155" stroke="#000" stroke-width="1.1"/>
<text x="140.0" y="164.4" font-size="7.2" font-weight="bold" text-anchor="middle">5</text>
<line x1="159.1" y1="152.5" x2="159.1" y2="155" stroke="#000" stroke-width="1.1"/>
<text x="159.8" y="164.4" font-size="7.2" font-weight="bold" text-anchor="middle">6</text>
<line x1="178.9" y1="152.5" x2="178.9" y2="155" stroke="#000" stroke-width="1.1"/>
<text x="179.6" y="164.4" font-size="7.2" font-weight="bold" text-anchor="middle">7</text>
<line x1="198.7" y1="152.5" x2="198.7" y2="155" stroke="#000" stroke-width="1.1"/>
<text x="199.4" y="164.4" font-size="7.2" font-weight="bold" text-anchor="middle">8</text>
<line x1="218.5" y1="152.5" x2="218.5" y2="155" stroke="#000" stroke-width="1.1"/>
<text x="219.2" y="164.4" font-size="7.2" font-weight="bold" text-anchor="middle">9</text>
<line x1="238.3" y1="152.5" x2="238.3" y2="155" stroke="#000" stroke-width="1.1"/>
<text x="239.0" y="164.4" font-size="7.2" font-weight="bold" text-anchor="middle">10</text>
<text x="146.7" y="175.9" font-size="10.8" font-weight="bold" text-anchor="middle">Time (min)</text>
<text transform="translate(9.1,80.4) rotate(-90)" font-size="10.9" font-weight="bold" text-anchor="middle">αIIbβ3 activation (MFI)</text>
<line x1="47.3" y1="13.0" x2="57.7" y2="13.0" stroke="#000" stroke-width="1.3"/>
<text x="58" y="16.1" font-size="7.3" font-weight="bold">Tln wt/wt Cre+</text>
<line x1="47.3" y1="21.8" x2="57.7" y2="21.8" stroke="#858585" stroke-width="1.3"/>
<text x="58" y="24.9" font-size="7.3" font-weight="bold">Tln wt/fl Cre+</text>
<line x1="47.3" y1="30.6" x2="57.7" y2="30.6" stroke="#d21fd2" stroke-width="1.3"/>
<text x="58" y="33.7" font-size="7.3" font-weight="bold">Tln fl/fl Cre+</text>
<line x1="47.3" y1="39.4" x2="57.7" y2="39.4" stroke="#22dd22" stroke-width="1.3"/>
<text x="58" y="42.5" font-size="7.3" font-weight="bold">Tln LR/fl Cre+</text>
<line x1="47.3" y1="48.2" x2="57.7" y2="48.2" stroke="#0a0af0" stroke-width="1.3"/>
<text x="58" y="51.3" font-size="7.3" font-weight="bold">Tln WA/fl Cre+</text>
<line x1="47.3" y1="57.0" x2="57.7" y2="57.0" stroke="#f01010" stroke-width="1.3"/>
<text x="58" y="60.1" font-size="7.3" font-weight="bold">CDGI-/-</text>
<text x="268.3" y="6.6" font-size="12.5" fill="#000">B</text>
<polyline points="311.1,152.0 311.6,151.6 312.1,151.9 312.6,151.8 313.1,151.9 313.6,151.9 314.1,152.0 314.6,151.8 315.1,151.7 315.6,151.8 316.1,151.8 316.6,151.7 317.1,151.7 317.5,151.7 318.0,151.7 318.5,151.6 319.0,151.6 319.5,151.4 320.0,151.7 320.5,151.5 321.0,151.6 321.5,151.5 322.0,151.5 322.5,151.5 323.0,151.3 323.5,151.4 324.0,151.1 324.5,151.3 325.0,151.0 325.5,151.1 326.0,151.1 326.5,151.0 327.0,150.9 327.5,150.8 328.0,150.8 328.5,150.8 329.0,150.8 329.5,150.6 329.9,150.5 330.4,150.6 330.9,150.3 331.4,150.2 331.9,150.0" fill="none" stroke="#f01010" stroke-width="1.4" stroke-linejoin="round"/>
<polyline points="330.9,150.4 331.4,150.4 331.9,150.2 332.4,150.0 332.9,149.8 333.4,149.5 333.9,149.3 334.4,149.1 334.9,149.0 335.4,149.0 335.9,148.8 336.4,148.7 336.9,148.5 337.4,148.4 337.9,148.3 338.4,148.3 338.9,148.4 339.4,148.2 339.9,148.1 340.4,148.0 340.9,147.8 341.4,148.1 341.9,147.7 342.3,147.8 342.8,148.1 343.3,147.3 343.8,147.4 344.3,147.4 344.8,147.5 345.3,147.1 345.8,147.3 346.3,147.3 346.8,147.3 347.3,146.7 347.8,147.2 348.3,147.3 348.8,147.1 349.3,146.7 349.8,146.7 350.3,146.2 350.8,146.7 351.3,146.9 351.8,146.6 352.3,145.7 352.8,146.2 353.3,146.1 353.8,146.0 354.3,146.2 354.7,145.5 355.2,145.6 355.7,145.8 356.2,145.8 356.7,145.5 357.2,145.6 357.7,145.4 358.2,144.9 358.7,145.3 359.2,144.8 359.7,144.3 360.2,144.7 360.7,145.0 361.2,144.6 361.7,144.5 362.2,144.1 362.7,143.3 363.2,144.0 363.7,143.7 364.2,142.7 364.7,143.1 365.2,142.9 365.7,143.3 366.2,142.8 366.7,142.6 367.1,142.3 367.6,141.6 368.1,141.1 368.6,141.5 369.1,141.1 369.6,140.9 370.1,140.7 370.6,140.4 371.1,140.5 371.6,140.2 372.1,139.7 372.6,139.1 373.1,138.7 373.6,138.9 374.1,139.2 374.6,139.4 375.1,138.8 375.6,139.0 376.1,139.0 376.6,139.3 377.1,138.3 377.6,138.6 378.1,137.9 378.6,137.1 379.1,136.5 379.5,137.2 380.0,137.2 380.5,137.5 381.0,135.9 381.5,136.0 382.0,135.3 382.5,133.9 383.0,134.6 383.5,133.8 384.0,133.0 384.5,133.7 385.0,132.3 385.5,132.3 386.0,131.6 386.5,131.0 387.0,130.8 387.5,130.8 388.0,129.7 388.5,128.8 389.0,129.9 389.5,128.9 390.0,127.9 390.5,127.8 391.0,126.7 391.5,127.0 391.9,127.0 392.4,125.3 392.9,126.1 393.4,125.7 393.9,124.8 394.4,124.5 394.9,123.9 395.4,123.4 395.9,122.3 396.4,123.6 396.9,122.1 397.4,122.1 397.9,121.5 398.4,121.4 398.9,121.1 399.4,119.9 399.9,120.2 400.4,119.5 400.9,118.8 401.4,119.5 401.9,119.1 402.4,117.6 402.9,117.6 403.4,116.8 403.9,116.4 404.3,116.1 404.8,116.5 405.3,115.1 405.8,114.7 406.3,115.3 406.8,114.4 407.3,115.1 407.8,113.5 408.3,113.5 408.8,112.9 409.3,111.7 409.8,112.9 410.3,112.8 410.8,112.6 411.3,111.6 411.8,111.8 412.3,111.0 412.8,110.7 413.3,110.0 413.8,110.0 414.3,109.2 414.8,109.9 415.3,108.8 415.8,108.2 416.3,108.5 416.7,108.2 417.2,106.9 417.7,107.0 418.2,106.9 418.7,107.2 419.2,107.0 419.7,106.8 420.2,105.8 420.7,105.1 421.2,104.4 421.7,105.0 422.2,104.4 422.7,104.6 423.2,104.6 423.7,104.9 424.2,102.7 424.7,103.3 425.2,101.4 425.7,102.9 426.2,101.0 426.7,101.4 427.2,100.3 427.7,101.7 428.2,100.6 428.7,100.5 429.1,99.3 429.6,99.2 430.1,97.7 430.6,97.7 431.1,98.5 431.6,95.6 432.1,96.4 432.6,96.7 433.1,96.0 433.6,95.1 434.1,94.0 434.6,94.3 435.1,92.5 435.6,92.0 436.1,90.1 436.6,90.9 437.1,89.8 437.6,89.3 438.1,87.0 438.6,87.1 439.1,87.2 439.6,85.8 440.1,86.5 440.6,87.0 441.1,84.7 441.5,84.4 442.0,83.1 442.5,82.4 443.0,80.9 443.5,81.8 444.0,79.6 444.5,79.6 445.0,78.8 445.5,77.6 446.0,77.4 446.5,77.1 447.0,77.4 447.5,75.9 448.0,76.3 448.5,74.9 449.0,74.2 449.5,73.9 450.0,72.7 450.5,73.1 451.0,71.9 451.5,71.4 452.0,72.2 452.5,69.5 453.0,68.9 453.5,69.1 453.9,68.9 454.4,67.9 454.9,68.4 455.4,67.5 455.9,67.0 456.4,65.1 456.9,67.2 457.4,65.4 457.9,64.1 458.4,65.6 458.9,64.0 459.4,62.9 459.9,62.2 460.4,62.8 460.9,61.8 461.4,61.1 461.9,61.5 462.4,61.0 462.9,60.4 463.4,61.4 463.9,61.5 464.4,61.2 464.9,59.2 465.4,58.7 465.9,57.4 466.3,58.3 466.8,57.3 467.3,58.0 467.8,57.2 468.3,57.7 468.8,56.7 469.3,56.8 469.8,56.6 470.3,53.3 470.8,54.2 471.3,55.0 471.8,54.3 472.3,54.1 472.8,53.0 473.3,53.7 473.8,52.1 474.3,51.8 474.8,51.0 475.3,51.8 475.8,51.5 476.3,50.2 476.8,50.2 477.3,47.4 477.8,49.9 478.3,46.6 478.7,47.6 479.2,45.4 479.7,46.8 480.2,46.4 480.7,48.7 481.2,45.1 481.7,43.2 482.2,45.7 482.7,44.8 483.2,46.0 483.7,45.2 484.2,42.3 484.7,43.3 485.2,43.0 485.7,43.1 486.2,42.3 486.7,42.2 487.2,42.2 487.7,39.7 488.2,40.2 488.7,42.4 489.2,41.9 489.7,40.5 490.2,40.6 490.7,40.8 491.1,41.0 491.6,39.0 492.1,38.1 492.6,39.9 493.1,37.9 493.6,37.0 494.1,38.4 494.6,37.2 495.1,37.1 495.6,36.8 496.1,37.5 496.6,36.6 497.1,36.3 497.6,34.4 498.1,34.2 498.6,34.3 499.1,34.6 499.6,36.5 500.1,34.3 500.6,34.3 501.1,36.9 501.6,34.9 502.1,33.8 502.6,34.9 503.1,34.1 503.5,35.6 504.0,34.5 504.5,32.5 505.0,34.8 505.5,31.8 506.0,35.4 506.5,33.5 507.0,30.4 507.5,35.3 508.0,31.6 508.5,29.6 509.0,34.5 509.5,30.9 510.0,31.6 510.5,31.2 511.0,31.4 511.5,31.8" fill="none" stroke="#f01010" stroke-width="2.8" stroke-linejoin="round"/>
<polyline points="330.9,150.7 331.2,150.4 331.5,150.2 331.8,149.7 332.1,150.2 332.4,150.4 332.7,150.3 333.0,149.8 333.3,149.5 333.6,149.7 333.9,148.9 334.2,149.2 334.5,148.6 334.8,149.2 335.1,149.1 335.4,148.6 335.7,148.4 336.0,148.9 336.3,148.3 336.6,148.6 336.9,148.3 337.2,148.7 337.5,148.2 337.8,148.5 338.1,148.2 338.4,148.9 338.7,148.6 339.0,148.2 339.3,148.2 339.6,147.9 339.9,149.7 340.2,148.8 340.5,147.7 340.8,148.0 341.1,149.7 341.4,146.9 341.7,147.5 342.0,149.4 342.2,147.0 342.5,147.9 342.8,147.8 343.1,147.6 343.4,147.8 343.7,147.8 344.0,147.5 344.3,147.1 344.6,147.3 344.9,146.9 345.2,147.6 345.5,148.8 345.8,147.7 346.1,147.9 346.4,147.3 346.7,146.1 347.0,147.1 347.3,147.5 347.6,146.6 347.9,148.3 348.2,145.7 348.5,147.2 348.8,147.0 349.1,146.4 349.4,147.6 349.7,146.9 350.0,146.4 350.3,147.1 350.6,147.5 350.9,146.1 351.2,147.1 351.5,146.8 351.8,146.0 352.1,147.6 352.4,146.9 352.7,146.4 353.0,144.6 353.3,146.2 353.6,146.5 353.9,146.9 354.2,146.3 354.5,143.9 354.7,145.7 355.0,146.1 355.3,145.7 355.6,147.5 355.9,146.0 356.2,145.9 356.5,145.7 356.8,146.0 357.1,146.1 357.4,143.6 357.7,144.3 358.0,145.2 358.3,143.9 358.6,145.5 358.9,144.3 359.2,144.6 359.5,144.2 359.8,145.4 360.1,146.8 360.4,141.9 360.7,144.4 361.0,142.4 361.3,142.9 361.6,144.0 361.9,143.8 362.2,143.8 362.5,144.7 362.8,143.3 363.1,141.2 363.4,143.3 363.7,145.6 364.0,144.3 364.3,143.8 364.6,144.4 364.9,143.6 365.2,143.1 365.5,144.1 365.8,142.8 366.1,145.6 366.4,142.9 366.7,139.9 366.9,145.8 367.2,140.1 367.5,142.6 367.8,142.3 368.1,144.3 368.4,140.9 368.7,142.2 369.0,140.9 369.3,138.2 369.6,137.1 369.9,141.2 370.2,141.1 370.5,138.6 370.8,138.7 371.1,139.4 371.4,141.9 371.7,140.0 372.0,139.5 372.3,140.8 372.6,142.8 372.9,138.7 373.2,139.9 373.5,139.4 373.8,139.1 374.1,138.4 374.4,139.4 374.7,138.6 375.0,137.1 375.3,139.3 375.6,138.6 375.9,140.5 376.2,137.4 376.5,137.6 376.8,137.6 377.1,138.7 377.4,138.6 377.7,140.3 378.0,140.5 378.3,137.2 378.6,136.1 378.9,138.4 379.2,139.1 379.4,138.7 379.7,140.0 380.0,135.5 380.3,136.3 380.6,136.6 380.9,136.7 381.2,136.8 381.5,135.2 381.8,136.4 382.1,133.5 382.4,134.0 382.7,134.2 383.0,134.2 383.3,134.2 383.6,134.9 383.9,134.1 384.2,134.3 384.5,130.6 384.8,130.9 385.1,134.4 385.4,133.0 385.7,131.5 386.0,130.9 386.3,131.8 386.6,127.5 386.9,131.8 387.2,132.3 387.5,130.9 387.8,131.8 388.1,131.7 388.4,129.9 388.7,129.9 389.0,126.7 389.3,128.4 389.6,124.9 389.9,126.8 390.2,131.2 390.5,127.2 390.8,128.1 391.1,128.2 391.4,126.8 391.7,126.0 391.9,126.4 392.2,125.8 392.5,125.7 392.8,127.4 393.1,126.7 393.4,125.6 393.7,126.0 394.0,124.6 394.3,123.5 394.6,123.4 394.9,123.4 395.2,122.9 395.5,121.6 395.8,120.5 396.1,126.6 396.4,123.1 396.7,122.5 397.0,123.1 397.3,124.1 397.6,117.4 397.9,122.6 398.2,120.9 398.5,120.3 398.8,123.1 399.1,122.9 399.4,119.7 399.7,122.0 400.0,120.2 400.3,118.8 400.6,115.5 400.9,121.2 401.2,120.8 401.5,118.2 401.8,119.2 402.1,118.7 402.4,118.1 402.7,118.4 403.0,121.8 403.3,113.1 403.6,122.5 403.9,112.9 404.1,116.9 404.4,114.3 404.7,116.0 405.0,115.9 405.3,112.3 405.6,110.6 405.9,113.7 406.2,114.8 406.5,114.3 406.8,113.6 407.1,112.3 407.4,116.0 407.7,114.3 408.0,112.9 408.3,118.1 408.6,112.9 408.9,112.5 409.2,110.4 409.5,113.9 409.8,111.0 410.1,110.9 410.4,111.2 410.7,110.3 411.0,113.4 411.3,116.6 411.6,107.0 411.9,117.3 412.2,110.0 412.5,108.8 412.8,112.6 413.1,109.4 413.4,111.5 413.7,109.5 414.0,113.5 414.3,115.9 414.6,109.9 414.9,107.7 415.2,108.4 415.5,106.4 415.8,108.0 416.1,106.8 416.4,105.4 416.6,108.9 416.9,108.4 417.2,107.6 417.5,103.9 417.8,114.2 418.1,108.1 418.4,106.4 418.7,105.5 419.0,114.4 419.3,104.9 419.6,106.8 419.9,109.1 420.2,106.9 420.5,108.4 420.8,107.7 421.1,105.8 421.4,107.0 421.7,103.7 422.0,102.6 422.3,104.0 422.6,98.8 422.9,104.9 423.2,101.4 423.5,100.3 423.8,100.7 424.1,103.6 424.4,102.6 424.7,98.8 425.0,103.4 425.3,104.8 425.6,104.2 425.9,106.4 426.2,99.5 426.5,99.1 426.8,100.6 427.1,95.1 427.4,104.7 427.7,97.9 428.0,99.8 428.3,100.4 428.6,98.9 428.9,100.1 429.1,96.6 429.4,98.3 429.7,99.4 430.0,96.2 430.3,102.6 430.6,96.7 430.9,99.7 431.2,98.7 431.5,94.4 431.8,97.6 432.1,95.3 432.4,93.1 432.7,103.5 433.0,96.9 433.3,90.1 433.6,94.4 433.9,95.6 434.2,94.3 434.5,91.8 434.8,91.9 435.1,94.2 435.4,95.2 435.7,87.6 436.0,89.0 436.3,90.1 436.6,89.1 436.9,91.4 437.2,90.2 437.5,93.6 437.8,91.9 438.1,89.7 438.4,92.7 438.7,88.3 439.0,87.2 439.3,90.1 439.6,93.5 439.9,87.1 440.2,87.6 440.5,93.5 440.8,79.6 441.1,83.7 441.3,83.3 441.6,84.8 441.9,81.5 442.2,85.9 442.5,78.5 442.8,80.4 443.1,78.2 443.4,82.5 443.7,73.2 444.0,86.3 444.3,74.0 444.6,82.9 444.9,76.1 445.2,78.4 445.5,78.0 445.8,79.3 446.1,78.5 446.4,80.2 446.7,75.8 447.0,77.2 447.3,81.6 447.6,76.6 447.9,79.7 448.2,76.0 448.5,74.6 448.8,74.6 449.1,75.1 449.4,72.8 449.7,81.6 450.0,80.3 450.3,74.2 450.6,70.4 450.9,70.8 451.2,73.3 451.5,72.8 451.8,71.8 452.1,70.7 452.4,69.4 452.7,64.3 453.0,67.5 453.3,66.6 453.6,68.7 453.8,70.8 454.1,68.8 454.4,69.5 454.7,68.2 455.0,69.9 455.3,67.5 455.6,68.2 455.9,70.7 456.2,65.9 456.5,69.0 456.8,58.8 457.1,65.1 457.4,73.0 457.7,63.6 458.0,59.3 458.3,67.3 458.6,57.7 458.9,64.0 459.2,66.1 459.5,62.7 459.8,63.0 460.1,62.7 460.4,61.1 460.7,61.9 461.0,70.1 461.3,59.9 461.6,61.1 461.9,63.1 462.2,61.2 462.5,53.5 462.8,64.1 463.1,60.1 463.4,66.4 463.7,60.0 464.0,61.3 464.3,49.7 464.6,65.4 464.9,53.5 465.2,54.1 465.5,50.5 465.8,58.7 466.1,60.4 466.3,54.7 466.6,59.9 466.9,65.2 467.2,63.1 467.5,59.0 467.8,61.1 468.1,64.1 468.4,57.1 468.7,49.5 469.0,51.1 469.3,62.1 469.6,55.4 469.9,55.0 470.2,49.2 470.5,61.2 470.8,49.5 471.1,52.4 471.4,52.1 471.7,53.1 472.0,55.3 472.3,55.3 472.6,48.2 472.9,61.8 473.2,48.0 473.5,53.0 473.8,53.7 474.1,43.3 474.4,51.9 474.7,55.3 475.0,52.1 475.3,52.1 475.6,50.5 475.9,52.1 476.2,55.9 476.5,48.1 476.8,42.5 477.1,51.0 477.4,54.1 477.7,49.1 478.0,46.6 478.3,49.8 478.5,49.9 478.8,47.9 479.1,47.6 479.4,44.1 479.7,43.2 480.0,43.1 480.3,44.9 480.6,46.2 480.9,51.1 481.2,47.7 481.5,47.6 481.8,54.1 482.1,47.0 482.4,43.9 482.7,46.1 483.0,42.3 483.3,46.0 483.6,40.1 483.9,42.9 484.2,48.0 484.5,53.8 484.8,45.5 485.1,43.7 485.4,44.3 485.7,42.3 486.0,43.8 486.3,43.0 486.6,42.7 486.9,38.5 487.2,35.4 487.5,40.6 487.8,41.5 488.1,41.5 488.4,38.7 488.7,42.4 489.0,49.3 489.3,41.8 489.6,42.9 489.9,36.3 490.2,44.2 490.5,40.0 490.8,39.2 491.0,45.4 491.3,38.7 491.6,37.6 491.9,38.2 492.2,38.7 492.5,43.3 492.8,35.1 493.1,33.9 493.4,35.5 493.7,35.3 494.0,36.7 494.3,36.2 494.6,30.4 494.9,35.4 495.2,43.3 495.5,33.1 495.8,34.2 496.1,34.4 496.4,36.8 496.7,39.6 497.0,37.8 497.3,32.3 497.6,39.9 497.9,33.1 498.2,34.5 498.5,44.0 498.8,43.1 499.1,38.4 499.4,39.5 499.7,37.1 500.0,47.5 500.3,23.1 500.6,39.5 500.9,41.3 501.2,33.9 501.5,34.7 501.8,32.4 502.1,47.8 502.4,29.2 502.7,31.5 503.0,39.4 503.3,34.6 503.5,36.7 503.8,32.5 504.1,39.5 504.4,31.5 504.7,23.4 505.0,33.4 505.3,30.0 505.6,36.3 505.9,29.3 506.2,34.7 506.5,39.4 506.8,33.0 507.1,36.6 507.4,32.5 507.7,22.6 508.0,39.7 508.3,28.5 508.6,31.2 508.9,32.1 509.2,21.2 509.5,20.3 509.8,30.4 510.1,30.7 510.4,30.3 510.7,30.2 511.0,26.3 511.3,40.9 511.6,30.7 511.9,25.8" fill="none" stroke="#f01010" stroke-width="1.0" stroke-linejoin="round"/>
<polyline points="311.1,151.9 311.6,151.9 312.1,151.9 312.6,151.8 313.1,151.8 313.6,151.8 314.1,151.9 314.6,151.8 315.1,151.9 315.6,151.7 316.1,151.9 316.6,151.8 317.1,151.9 317.5,151.8 318.0,151.8 318.5,151.8 319.0,151.8 319.5,151.7 320.0,151.7 320.5,151.8 321.0,151.6 321.5,151.6 322.0,151.7 322.5,151.6 323.0,151.5 323.5,151.5 324.0,151.5 324.5,151.5 325.0,151.4 325.5,151.5 326.0,151.5 326.5,151.4 327.0,151.3 327.5,151.4 328.0,151.3 328.5,151.2 329.0,151.2 329.5,150.9 329.9,150.2 330.4,149.4 330.9,148.6" fill="none" stroke="#808080" stroke-width="1.2" stroke-linejoin="round"/>
<polyline points="329.9,150.2 330.4,149.4 330.9,148.6 331.4,147.4 331.9,146.5 332.4,145.2 332.9,143.7 333.4,142.4 333.9,141.0 334.4,139.6 334.9,137.8 335.4,136.5 335.9,135.0 336.4,133.4 336.9,132.0 337.4,130.3 337.9,128.7 338.4,126.8 338.9,125.3 339.4,123.8 339.9,122.3 340.4,121.0 340.9,119.6 341.4,118.6 341.9,117.5 342.3,116.3 342.8,115.3 343.3,114.4 343.8,113.2 344.3,112.5 344.8,111.4 345.3,110.6 345.8,109.7 346.3,109.1 346.8,108.2 347.3,107.3 347.8,106.4 348.3,106.2 348.8,105.2 349.3,104.1 349.8,103.7 350.3,103.0 350.8,102.5 351.3,101.6 351.8,100.9 352.3,100.8 352.8,99.4 353.3,99.0 353.8,98.7 354.3,98.1 354.7,97.7 355.2,97.2 355.7,97.0 356.2,95.7 356.7,96.5 357.2,95.3 357.7,94.4 358.2,93.9 358.7,93.4 359.2,92.4 359.7,92.7 360.2,91.7 360.7,91.4 361.2,90.7 361.7,90.4 362.2,90.1 362.7,89.2 363.2,89.7 363.7,88.2 364.2,87.9 364.7,87.6 365.2,87.3 365.7,86.6 366.2,85.9 366.7,85.5 367.1,84.9 367.6,83.8 368.1,83.8 368.6,82.8 369.1,82.0 369.6,81.9 370.1,81.1 370.6,80.9 371.1,80.4 371.6,79.5 372.1,79.4 372.6,78.7 373.1,77.5 373.6,78.4 374.1,77.2 374.6,76.6 375.1,76.6 375.6,75.1 376.1,74.9 376.6,75.2 377.1,73.4 377.6,73.4 378.1,74.2 378.6,73.2 379.1,72.0 379.5,72.1 380.0,72.0 380.5,70.8 381.0,70.8 381.5,70.5 382.0,70.0 382.5,70.4 383.0,69.2 383.5,68.7 384.0,68.5 384.5,67.8 385.0,67.2 385.5,67.1 386.0,66.5 386.5,67.6 387.0,67.4 387.5,65.6 388.0,63.9 388.5,64.9 389.0,65.2 389.5,64.1 390.0,64.6 390.5,64.3 391.0,63.2 391.5,63.1 391.9,62.4 392.4,62.5 392.9,61.8 393.4,61.9 393.9,62.8 394.4,61.5 394.9,62.1 395.4,61.4 395.9,59.9 396.4,60.6 396.9,60.1 397.4,59.4 397.9,59.6 398.4,60.5 398.9,60.3 399.4,58.9 399.9,58.5 400.4,58.7 400.9,58.7 401.4,59.2 401.9,57.6 402.4,57.1 402.9,57.5 403.4,55.9 403.9,56.9 404.3,57.1 404.8,55.1 405.3,56.9 405.8,55.5 406.3,55.6 406.8,55.3 407.3,55.1 407.8,54.9 408.3,54.3 408.8,53.0 409.3,54.9 409.8,53.9 410.3,54.1 410.8,53.6 411.3,54.1 411.8,52.9 412.3,52.3 412.8,54.6 413.3,53.4 413.8,52.7 414.3,52.7 414.8,52.6 415.3,49.7 415.8,50.7 416.3,51.1 416.7,51.2 417.2,50.0 417.7,50.5 418.2,49.4 418.7,49.8 419.2,48.3 419.7,49.4 420.2,50.8 420.7,48.4 421.2,49.7 421.7,48.1 422.2,48.1 422.7,50.6 423.2,48.0 423.7,48.4 424.2,48.0 424.7,46.1 425.2,47.9 425.7,48.4 426.2,46.7 426.7,46.5 427.2,46.7 427.7,47.5 428.2,46.3 428.7,47.4 429.1,47.1 429.6,44.9 430.1,45.0 430.6,45.7 431.1,44.8 431.6,45.8 432.1,45.7 432.6,43.9 433.1,44.8 433.6,44.1 434.1,43.2 434.6,43.5 435.1,42.0 435.6,42.1 436.1,40.9 436.6,40.3 437.1,41.8 437.6,41.5 438.1,39.9 438.6,40.3 439.1,38.9 439.6,38.3 440.1,39.0 440.6,39.5 441.1,38.1 441.5,37.9 442.0,37.6 442.5,36.7 443.0,35.7 443.5,37.0 444.0,35.7 444.5,37.8 445.0,36.4 445.5,36.6 446.0,36.5 446.5,34.9 447.0,34.7 447.5,36.4 448.0,35.6 448.5,35.1 449.0,35.4 449.5,33.1 450.0,35.3 450.5,34.5 451.0,34.5 451.5,34.6 452.0,35.5 452.5,34.3 453.0,33.5 453.5,32.8 453.9,35.3 454.4,31.6 454.9,32.7 455.4,32.6 455.9,31.9 456.4,31.9 456.9,32.1 457.4,31.0 457.9,31.5 458.4,31.8 458.9,30.2 459.4,31.2 459.9,31.2 460.4,30.8 460.9,30.6 461.4,30.5 461.9,30.1 462.4,29.7 462.9,30.6 463.4,30.0 463.9,29.9 464.4,30.9 464.9,30.5 465.4,29.1 465.9,30.7 466.3,29.2 466.8,29.9 467.3,27.5 467.8,30.0 468.3,28.4 468.8,27.8 469.3,27.5 469.8,26.1 470.3,26.9 470.8,27.1 471.3,28.7 471.8,27.4 472.3,26.9 472.8,28.0 473.3,27.2 473.8,26.3 474.3,26.0 474.8,25.1 475.3,26.2 475.8,24.5 476.3,26.7 476.8,24.7 477.3,25.8 477.8,26.5 478.3,24.9 478.7,25.4 479.2,26.8 479.7,24.9 480.2,25.9 480.7,25.7 481.2,23.5 481.7,25.1 482.2,23.8 482.7,24.8 483.2,24.8 483.7,25.4 484.2,24.4 484.7,24.4 485.2,24.5 485.7,25.9 486.2,24.3 486.7,25.5 487.2,23.4 487.7,23.1 488.2,24.3 488.7,23.1 489.2,23.8 489.7,23.5 490.2,25.1 490.7,24.7 491.1,25.0 491.6,23.8 492.1,23.0 492.6,22.9 493.1,24.5 493.6,22.0 494.1,22.3 494.6,21.9 495.1,23.4 495.6,22.4 496.1,23.0 496.6,23.2 497.1,24.3 497.6,22.7 498.1,20.0 498.6,20.1 499.1,21.4 499.6,22.6 500.1,20.5 500.6,20.8 501.1,19.8 501.6,20.2 502.1,20.8 502.6,20.3 503.1,20.3 503.5,20.7 504.0,19.6 504.5,19.1 505.0,17.4 505.5,18.5 506.0,20.1 506.5,18.0 507.0,18.4 507.5,18.0 508.0,18.6 508.5,19.0 509.0,17.9 509.5,17.7 510.0,18.8 510.5,17.1 511.0,18.5 511.5,17.7" fill="none" stroke="#808080" stroke-width="2.4" stroke-linejoin="round"/>
<polyline points="329.9,150.1 330.2,149.6 330.5,149.3 330.8,148.6 331.1,148.2 331.4,148.0 331.7,147.4 332.0,146.3 332.3,145.2 332.6,144.4 332.9,143.9 333.2,142.7 333.5,141.8 333.8,141.2 334.1,140.1 334.4,139.5 334.7,138.2 335.0,137.1 335.3,135.5 335.6,135.6 335.9,134.6 336.2,134.1 336.5,132.7 336.8,132.5 337.1,130.9 337.4,131.2 337.7,130.1 338.0,128.6 338.3,127.6 338.6,126.0 338.9,125.3 339.2,124.6 339.5,122.4 339.8,123.0 340.1,122.2 340.4,121.8 340.7,119.5 341.0,119.5 341.3,120.2 341.6,118.0 341.9,116.2 342.1,116.6 342.4,116.4 342.7,116.1 343.0,114.1 343.3,114.6 343.6,113.4 343.9,112.4 344.2,113.0 344.5,111.9 344.8,111.2 345.1,110.9 345.4,109.9 345.7,110.2 346.0,109.1 346.3,111.4 346.6,110.3 346.9,109.2 347.2,107.4 347.5,106.4 347.8,106.8 348.1,105.0 348.4,105.9 348.7,106.7 349.0,105.2 349.3,104.9 349.6,105.3 349.9,101.8 350.2,101.4 350.5,103.2 350.8,102.6 351.1,103.6 351.4,103.0 351.7,100.7 352.0,99.9 352.3,100.8 352.6,99.9 352.9,100.0 353.2,101.2 353.5,98.3 353.8,99.7 354.1,97.9 354.4,98.0 354.6,97.5 354.9,97.6 355.2,97.6 355.5,98.7 355.8,97.9 356.1,96.0 356.4,96.8 356.7,95.4 357.0,94.8 357.3,95.1 357.6,93.7 357.9,95.4 358.2,95.3 358.5,93.6 358.8,94.6 359.1,93.8 359.4,93.1 359.7,93.3 360.0,91.8 360.3,92.4 360.6,92.4 360.9,93.3 361.2,92.8 361.5,91.7 361.8,90.3 362.1,90.6 362.4,91.5 362.7,88.6 363.0,88.3 363.3,91.6 363.6,91.2 363.9,90.3 364.2,89.6 364.5,89.7 364.8,87.5 365.1,88.1 365.4,86.4 365.7,85.2 366.0,86.0 366.3,84.0 366.6,85.0 366.9,84.3 367.1,88.3 367.4,81.7 367.7,83.9 368.0,84.2 368.3,82.4 368.6,82.6 368.9,83.5 369.2,82.4 369.5,80.6 369.8,81.7 370.1,79.9 370.4,81.9 370.7,81.8 371.0,81.1 371.3,83.3 371.6,77.5 371.9,77.8 372.2,78.4 372.5,79.0 372.8,79.8 373.1,76.0 373.4,79.6 373.7,76.6 374.0,81.8 374.3,74.3 374.6,77.4 374.9,78.1 375.2,76.9 375.5,75.6 375.8,74.9 376.1,75.7 376.4,76.2 376.7,78.1 377.0,76.9 377.3,73.7 377.6,74.0 377.9,72.8 378.2,77.3 378.5,70.9 378.8,74.6 379.1,76.4 379.3,70.4 379.6,71.4 379.9,68.8 380.2,71.8 380.5,75.7 380.8,72.7 381.1,70.1 381.4,69.1 381.7,68.2 382.0,67.6 382.3,72.0 382.6,69.6 382.9,74.2 383.2,67.7 383.5,68.2 383.8,68.3 384.1,71.2 384.4,70.9 384.7,68.3 385.0,70.5 385.3,68.4 385.6,67.7 385.9,67.6 386.2,65.4 386.5,66.0 386.8,66.0 387.1,67.8 387.4,65.6 387.7,65.2 388.0,64.6 388.3,63.5 388.6,61.0 388.9,63.6 389.2,63.1 389.5,63.0 389.8,65.7 390.1,62.5 390.4,65.3 390.7,66.4 391.0,58.8 391.3,64.8 391.6,68.9 391.8,61.4 392.1,62.8 392.4,67.0 392.7,63.1 393.0,63.4 393.3,64.3 393.6,64.5 393.9,66.7 394.2,61.9 394.5,65.8 394.8,58.3 395.1,59.3 395.4,63.1 395.7,61.0 396.0,61.2 396.3,60.9 396.6,64.0 396.9,62.0 397.2,54.6 397.5,60.9 397.8,61.2 398.1,61.1 398.4,60.0 398.7,61.5 399.0,61.2 399.3,59.8 399.6,65.0 399.9,57.8 400.2,60.8 400.5,60.5 400.8,56.7 401.1,58.3 401.4,59.6 401.7,55.3 402.0,57.0 402.3,58.3 402.6,59.1 402.9,60.6 403.2,58.9 403.5,54.8 403.8,54.5 404.1,54.6 404.3,56.4 404.6,56.7 404.9,55.1 405.2,55.1 405.5,56.8 405.8,57.6 406.1,58.2 406.4,54.5 406.7,56.9 407.0,52.3 407.3,50.5 407.6,55.6 407.9,54.5 408.2,53.3 408.5,53.7 408.8,54.1 409.1,59.9 409.4,55.8 409.7,52.5 410.0,52.8 410.3,54.7 410.6,53.2 410.9,52.4 411.2,52.9 411.5,53.6 411.8,50.4 412.1,57.7 412.4,45.0 412.7,49.8 413.0,51.8 413.3,58.3 413.6,55.7 413.9,52.2 414.2,52.4 414.5,53.4 414.8,55.9 415.1,51.2 415.4,50.8 415.7,50.1 416.0,53.0 416.3,49.2 416.5,55.6 416.8,45.7 417.1,50.7 417.4,49.0 417.7,49.9 418.0,53.1 418.3,50.7 418.6,54.5 418.9,47.6 419.2,56.1 419.5,48.0 419.8,52.3 420.1,48.3 420.4,47.3 420.7,45.7 421.0,48.8 421.3,48.9 421.6,49.2 421.9,49.6 422.2,55.2 422.5,49.5 422.8,48.3 423.1,48.5 423.4,48.2 423.7,44.0 424.0,45.6 424.3,49.4 424.6,46.1 424.9,50.4 425.2,48.2 425.5,47.1 425.8,49.6 426.1,50.0 426.4,48.9 426.7,47.2 427.0,46.9 427.3,48.7 427.6,47.2 427.9,46.1 428.2,47.9 428.5,43.5 428.8,47.8 429.0,46.4 429.3,47.5 429.6,46.5 429.9,47.1 430.2,49.6 430.5,46.1 430.8,45.9 431.1,47.5 431.4,46.9 431.7,41.6 432.0,40.9 432.3,44.2 432.6,40.5 432.9,43.5 433.2,46.0 433.5,42.9 433.8,44.6 434.1,42.8 434.4,42.3 434.7,37.8 435.0,45.7 435.3,48.1 435.6,44.3 435.9,43.8 436.2,41.1 436.5,42.5 436.8,36.2 437.1,36.7 437.4,35.0 437.7,46.2 438.0,42.9 438.3,38.1 438.6,38.3 438.9,40.0 439.2,36.0 439.5,34.8 439.8,39.8 440.1,38.7 440.4,36.9 440.7,41.2 441.0,35.6 441.3,37.8 441.5,35.7 441.8,36.4 442.1,39.6 442.4,37.1 442.7,41.8 443.0,39.4 443.3,39.9 443.6,36.2 443.9,37.8 444.2,41.7 444.5,35.4 444.8,34.9 445.1,37.0 445.4,36.5 445.7,36.0 446.0,35.6 446.3,37.3 446.6,32.5 446.9,32.8 447.2,29.3 447.5,35.5 447.8,32.9 448.1,34.9 448.4,29.0 448.7,37.8 449.0,27.1 449.3,28.5 449.6,37.1 449.9,33.7 450.2,36.1 450.5,40.3 450.8,34.1 451.1,36.8 451.4,32.4 451.7,34.1 452.0,39.2 452.3,30.9 452.6,34.8 452.9,33.1 453.2,36.5 453.5,31.7 453.7,34.2 454.0,34.7 454.3,31.3 454.6,34.9 454.9,30.9 455.2,33.5 455.5,32.1 455.8,26.7 456.1,37.0 456.4,31.2 456.7,34.4 457.0,32.6 457.3,34.9 457.6,32.1 457.9,34.2 458.2,30.3 458.5,33.1 458.8,26.8 459.1,33.1 459.4,33.8 459.7,31.3 460.0,30.8 460.3,29.3 460.6,32.7 460.9,35.3 461.2,28.9 461.5,33.0 461.8,30.9 462.1,28.4 462.4,31.3 462.7,32.2 463.0,31.5 463.3,30.0 463.6,31.2 463.9,31.0 464.2,32.4 464.5,32.1 464.8,24.4 465.1,31.0 465.4,33.9 465.7,36.5 466.0,31.1 466.2,26.8 466.5,28.8 466.8,27.8 467.1,23.7 467.4,28.5 467.7,29.9 468.0,24.4 468.3,28.9 468.6,26.4 468.9,30.6 469.2,30.6 469.5,24.9 469.8,27.4 470.1,29.5 470.4,26.8 470.7,25.3 471.0,28.5 471.3,28.3 471.6,30.2 471.9,25.4 472.2,27.9 472.5,28.2 472.8,23.5 473.1,28.7 473.4,23.7 473.7,26.6 474.0,25.8 474.3,21.9 474.6,25.5 474.9,25.3 475.2,30.1 475.5,30.6 475.8,24.5 476.1,27.5 476.4,29.5 476.7,25.6 477.0,24.0 477.3,23.7 477.6,28.3 477.9,24.9 478.2,25.1 478.5,26.4 478.7,21.1 479.0,27.9 479.3,26.8 479.6,25.0 479.9,22.5 480.2,21.1 480.5,26.8 480.8,26.4 481.1,23.9 481.4,21.5 481.7,28.1 482.0,23.5 482.3,26.8 482.6,21.4 482.9,24.1 483.2,27.9 483.5,27.4 483.8,22.7 484.1,25.7 484.4,24.1 484.7,20.0 485.0,27.1 485.3,30.3 485.6,27.9 485.9,21.9 486.2,22.1 486.5,25.1 486.8,21.8 487.1,22.2 487.4,28.0 487.7,22.0 488.0,23.5 488.3,21.7 488.6,18.3 488.9,24.7 489.2,18.1 489.5,25.2 489.8,28.7 490.1,24.7 490.4,23.3 490.7,23.3 490.9,22.3 491.2,22.7 491.5,24.4 491.8,24.4 492.1,21.4 492.4,23.6 492.7,24.3 493.0,17.8 493.3,22.0 493.6,25.1 493.9,20.5 494.2,23.8 494.5,22.5 494.8,20.3 495.1,21.7 495.4,22.1 495.7,22.5 496.0,22.7 496.3,21.1 496.6,24.6 496.9,17.9 497.2,20.4 497.5,22.8 497.8,14.8 498.1,19.1 498.4,24.2 498.7,24.3 499.0,26.1 499.3,22.0 499.6,22.4 499.9,22.1 500.2,21.9 500.5,14.0 500.8,22.6 501.1,19.6 501.4,18.8 501.7,19.3 502.0,18.2 502.3,21.0 502.6,21.3 502.9,22.4 503.2,20.9 503.4,29.1 503.7,20.3 504.0,18.6 504.3,17.6 504.6,18.5 504.9,21.7 505.2,19.4 505.5,22.9 505.8,18.6 506.1,19.9 506.4,17.5 506.7,16.8 507.0,22.1 507.3,21.4 507.6,18.5 507.9,16.8 508.2,13.4 508.5,24.4 508.8,15.8 509.1,17.7 509.4,18.1 509.7,15.6 510.0,17.3 510.3,19.7 510.6,18.8 510.9,20.4 511.2,8.9 511.5,20.4 511.8,19.3" fill="none" stroke="#808080" stroke-width="1.0" stroke-linejoin="round"/>
<polyline points="311.1,151.8 311.6,151.9 312.1,151.9 312.6,151.9 313.1,152.0 313.6,151.8 314.1,151.8 314.6,151.7 315.1,151.8 315.6,151.9 316.1,151.8 316.6,151.8 317.1,151.7 317.5,151.8 318.0,151.7 318.5,151.9 319.0,151.8 319.5,151.8 320.0,151.7 320.5,151.8 321.0,151.7 321.5,151.7 322.0,151.6 322.5,151.6 323.0,151.6 323.5,151.5 324.0,151.5 324.5,151.5 325.0,151.6 325.5,151.4 326.0,151.5 326.5,151.4 327.0,151.3 327.5,151.2 328.0,151.3 328.5,151.2 329.0,151.2 329.5,151.0 329.9,150.7 330.4,150.5 330.9,150.0" fill="none" stroke="#0a0af0" stroke-width="1.2" stroke-linejoin="round"/>
<polyline points="329.9,150.7 330.4,150.4 330.9,150.0 331.4,149.4 331.9,149.0 332.4,148.3 332.9,147.9 333.4,147.3 333.9,146.8 334.4,146.1 334.9,145.4 335.4,144.9 335.9,144.2 336.4,143.4 336.9,143.0 337.4,142.2 337.9,141.2 338.4,140.4 338.9,139.8 339.4,139.0 339.9,138.1 340.4,137.7 340.9,136.8 341.4,135.8 341.9,135.1 342.3,134.4 342.8,133.3 343.3,132.7 343.8,131.8 344.3,131.4 344.8,131.0 345.3,130.1 345.8,129.8 346.3,129.0 346.8,128.8 347.3,128.2 347.8,127.6 348.3,127.3 348.8,126.7 349.3,126.6 349.8,126.2 350.3,126.0 350.8,124.9 351.3,125.1 351.8,124.4 352.3,124.1 352.8,123.5 353.3,123.6 353.8,123.1 354.3,122.6 354.7,122.0 355.2,120.8 355.7,121.2 356.2,120.5 356.7,120.0 357.2,119.7 357.7,119.5 358.2,118.7 358.7,118.0 359.2,117.4 359.7,117.3 360.2,117.0 360.7,116.3 361.2,115.8 361.7,114.9 362.2,114.1 362.7,114.3 363.2,113.7 363.7,112.2 364.2,112.0 364.7,112.1 365.2,111.5 365.7,110.2 366.2,110.6 366.7,109.5 367.1,108.6 367.6,107.4 368.1,106.2 368.6,106.3 369.1,106.1 369.6,105.1 370.1,103.7 370.6,104.2 371.1,102.9 371.6,101.9 372.1,102.5 372.6,100.8 373.1,101.7 373.6,101.7 374.1,101.4 374.6,101.8 375.1,100.5 375.6,99.4 376.1,99.8 376.6,99.5 377.1,98.5 377.6,97.6 378.1,97.9 378.6,97.3 379.1,97.1 379.5,96.7 380.0,96.8 380.5,96.2 381.0,96.1 381.5,94.5 382.0,94.7 382.5,92.7 383.0,93.0 383.5,91.5 384.0,91.3 384.5,91.7 385.0,89.9 385.5,90.6 386.0,90.1 386.5,88.8 387.0,87.7 387.5,86.7 388.0,86.2 388.5,86.0 389.0,85.0 389.5,85.0 390.0,84.1 390.5,84.5 391.0,82.6 391.5,83.6 391.9,83.5 392.4,81.9 392.9,83.0 393.4,82.7 393.9,81.8 394.4,80.1 394.9,80.9 395.4,79.4 395.9,79.8 396.4,78.9 396.9,79.5 397.4,78.6 397.9,79.0 398.4,79.1 398.9,77.7 399.4,78.3 399.9,77.3 400.4,77.2 400.9,76.8 401.4,76.2 401.9,76.0 402.4,76.8 402.9,76.5 403.4,75.5 403.9,75.8 404.3,75.6 404.8,75.1 405.3,72.8 405.8,73.9 406.3,74.6 406.8,73.7 407.3,73.1 407.8,72.6 408.3,72.8 408.8,72.0 409.3,72.7 409.8,71.7 410.3,71.5 410.8,71.6 411.3,71.8 411.8,70.5 412.3,70.7 412.8,69.8 413.3,68.8 413.8,69.5 414.3,69.6 414.8,69.1 415.3,68.5 415.8,68.0 416.3,67.0 416.7,67.5 417.2,68.5 417.7,66.8 418.2,66.6 418.7,67.4 419.2,66.0 419.7,65.8 420.2,64.4 420.7,65.6 421.2,65.6 421.7,64.2 422.2,64.7 422.7,64.3 423.2,61.1 423.7,63.8 424.2,61.4 424.7,62.4 425.2,62.1 425.7,61.2 426.2,60.7 426.7,60.3 427.2,59.9 427.7,59.5 428.2,59.0 428.7,59.1 429.1,58.9 429.6,58.2 430.1,58.3 430.6,57.0 431.1,57.4 431.6,57.5 432.1,57.7 432.6,55.1 433.1,56.2 433.6,55.4 434.1,53.3 434.6,53.9 435.1,53.2 435.6,53.9 436.1,54.2 436.6,53.7 437.1,52.5 437.6,53.0 438.1,51.8 438.6,51.4 439.1,49.7 439.6,50.0 440.1,49.9 440.6,49.3 441.1,48.9 441.5,49.0 442.0,49.8 442.5,49.1 443.0,48.7 443.5,48.0 444.0,47.6 444.5,47.7 445.0,46.9 445.5,47.3 446.0,46.9 446.5,46.5 447.0,46.6 447.5,46.2 448.0,46.2 448.5,45.0 449.0,44.8 449.5,44.7 450.0,44.3 450.5,45.8 451.0,44.0 451.5,44.7 452.0,44.7 452.5,45.1 453.0,43.6 453.5,43.1 453.9,43.5 454.4,44.5 454.9,42.8 455.4,43.5 455.9,43.3 456.4,41.5 456.9,43.1 457.4,42.6 457.9,40.6 458.4,42.4 458.9,42.4 459.4,41.3 459.9,41.3 460.4,41.4 460.9,41.0 461.4,39.9 461.9,39.5 462.4,39.6 462.9,39.5 463.4,40.3 463.9,38.7 464.4,38.9 464.9,38.7 465.4,40.1 465.9,40.3 466.3,39.2 466.8,39.3 467.3,39.0 467.8,37.7 468.3,37.7 468.8,38.4 469.3,38.0 469.8,36.2 470.3,36.9 470.8,37.4 471.3,36.2 471.8,37.6 472.3,37.5 472.8,37.8 473.3,35.9 473.8,36.4 474.3,37.1 474.8,35.6 475.3,36.2 475.8,35.5 476.3,35.9 476.8,34.8 477.3,35.6 477.8,36.6 478.3,36.2 478.7,34.7 479.2,35.0 479.7,34.1 480.2,35.6 480.7,34.9 481.2,35.4 481.7,34.4 482.2,33.8 482.7,34.8 483.2,33.1 483.7,33.8 484.2,34.7 484.7,33.2 485.2,31.5 485.7,32.7 486.2,34.8 486.7,33.0 487.2,32.2 487.7,32.7 488.2,34.0 488.7,32.5 489.2,31.9 489.7,34.0 490.2,32.5 490.7,33.0 491.1,31.1 491.6,33.2 492.1,32.2 492.6,33.1 493.1,32.7 493.6,31.7 494.1,31.7 494.6,31.4 495.1,33.5 495.6,31.8 496.1,32.1 496.6,31.5 497.1,29.3 497.6,29.6 498.1,31.5 498.6,30.3 499.1,29.4 499.6,30.2 500.1,29.6 500.6,31.0 501.1,28.6 501.6,28.3 502.1,28.8 502.6,29.1 503.1,28.1 503.5,28.4 504.0,27.5 504.5,27.3 505.0,27.0 505.5,26.6 506.0,27.4 506.5,26.1 507.0,27.1 507.5,24.9 508.0,24.3 508.5,27.9 509.0,24.8 509.5,26.3 510.0,25.7 510.5,26.2 511.0,27.3 511.5,25.6" fill="none" stroke="#0a0af0" stroke-width="2.4" stroke-linejoin="round"/>
<polyline points="329.9,150.5 330.2,150.6 330.5,150.2 330.8,150.1 331.1,149.6 331.4,149.9 331.7,149.0 332.0,148.9 332.3,148.5 332.6,148.7 332.9,148.0 333.2,147.3 333.5,147.1 333.8,146.6 334.1,146.8 334.4,146.0 334.7,144.6 335.0,145.5 335.3,145.3 335.6,144.6 335.9,145.0 336.2,144.5 336.5,143.9 336.8,142.1 337.1,142.8 337.4,141.9 337.7,142.2 338.0,140.4 338.3,141.5 338.6,140.0 338.9,140.1 339.2,139.0 339.5,139.5 339.8,138.6 340.1,137.6 340.4,137.5 340.7,137.3 341.0,136.5 341.3,135.9 341.6,135.6 341.9,136.9 342.1,133.2 342.4,133.4 342.7,132.9 343.0,132.9 343.3,132.9 343.6,132.8 343.9,131.9 344.2,131.7 344.5,130.6 344.8,130.4 345.1,129.8 345.4,130.3 345.7,129.8 346.0,127.3 346.3,130.1 346.6,129.7 346.9,128.6 347.2,128.7 347.5,127.5 347.8,128.3 348.1,127.7 348.4,127.2 348.7,127.1 349.0,126.4 349.3,125.7 349.6,126.9 349.9,124.3 350.2,126.8 350.5,125.8 350.8,124.8 351.1,125.8 351.4,125.5 351.7,124.7 352.0,121.1 352.3,124.4 352.6,124.3 352.9,123.9 353.2,122.7 353.5,120.8 353.8,121.7 354.1,121.3 354.4,120.2 354.6,124.2 354.9,122.7 355.2,121.3 355.5,120.8 355.8,121.6 356.1,120.9 356.4,121.0 356.7,118.4 357.0,119.5 357.3,120.5 357.6,118.6 357.9,119.5 358.2,118.0 358.5,120.6 358.8,117.8 359.1,117.7 359.4,117.1 359.7,118.3 360.0,115.1 360.3,116.3 360.6,116.0 360.9,117.3 361.2,115.3 361.5,116.7 361.8,113.9 362.1,114.8 362.4,113.9 362.7,113.7 363.0,113.9 363.3,117.7 363.6,113.4 363.9,113.5 364.2,109.7 364.5,112.7 364.8,114.7 365.1,111.6 365.4,111.4 365.7,109.4 366.0,111.2 366.3,109.4 366.6,108.3 366.9,106.6 367.1,108.5 367.4,110.4 367.7,107.8 368.0,107.4 368.3,106.0 368.6,105.4 368.9,105.3 369.2,104.9 369.5,104.4 369.8,105.8 370.1,106.4 370.4,102.4 370.7,104.0 371.0,102.5 371.3,99.1 371.6,102.9 371.9,102.9 372.2,101.0 372.5,102.4 372.8,102.0 373.1,100.4 373.4,104.3 373.7,101.1 374.0,97.0 374.3,99.9 374.6,100.8 374.9,102.8 375.2,102.3 375.5,100.0 375.8,99.1 376.1,100.7 376.4,95.1 376.7,98.9 377.0,98.4 377.3,98.9 377.6,98.3 377.9,100.8 378.2,97.8 378.5,98.0 378.8,98.5 379.1,99.7 379.3,96.4 379.6,95.8 379.9,94.9 380.2,95.4 380.5,95.1 380.8,94.8 381.1,95.9 381.4,92.4 381.7,90.8 382.0,91.8 382.3,94.7 382.6,93.7 382.9,91.9 383.2,93.4 383.5,89.1 383.8,94.3 384.1,91.0 384.4,90.3 384.7,91.3 385.0,93.0 385.3,85.6 385.6,89.9 385.9,88.2 386.2,88.2 386.5,89.7 386.8,90.9 387.1,84.5 387.4,83.0 387.7,86.9 388.0,90.4 388.3,81.2 388.6,85.2 388.9,83.7 389.2,84.2 389.5,88.9 389.8,87.8 390.1,86.1 390.4,86.3 390.7,83.3 391.0,83.0 391.3,88.3 391.6,84.8 391.8,81.8 392.1,81.5 392.4,82.6 392.7,77.7 393.0,81.7 393.3,81.8 393.6,77.4 393.9,80.1 394.2,82.0 394.5,83.8 394.8,82.6 395.1,80.4 395.4,81.1 395.7,85.2 396.0,74.6 396.3,79.1 396.6,83.2 396.9,78.2 397.2,80.5 397.5,77.9 397.8,78.6 398.1,79.1 398.4,77.2 398.7,78.6 399.0,76.4 399.3,78.8 399.6,79.4 399.9,77.2 400.2,74.8 400.5,77.9 400.8,77.7 401.1,78.5 401.4,74.8 401.7,76.6 402.0,77.2 402.3,73.0 402.6,72.2 402.9,75.8 403.2,77.8 403.5,76.0 403.8,76.7 404.1,80.9 404.3,75.2 404.6,76.4 404.9,74.6 405.2,71.4 405.5,73.7 405.8,74.1 406.1,75.9 406.4,73.3 406.7,70.0 407.0,74.8 407.3,75.1 407.6,69.7 407.9,72.9 408.2,71.1 408.5,74.1 408.8,80.1 409.1,73.5 409.4,70.5 409.7,71.0 410.0,74.3 410.3,72.2 410.6,70.1 410.9,72.5 411.2,71.8 411.5,69.0 411.8,71.3 412.1,69.1 412.4,71.0 412.7,70.0 413.0,70.4 413.3,69.7 413.6,70.1 413.9,68.9 414.2,72.6 414.5,69.5 414.8,69.6 415.1,66.4 415.4,66.2 415.7,67.8 416.0,65.8 416.3,66.4 416.5,70.7 416.8,69.3 417.1,70.2 417.4,70.1 417.7,65.5 418.0,67.7 418.3,65.1 418.6,62.4 418.9,67.8 419.2,64.4 419.5,62.3 419.8,63.9 420.1,60.7 420.4,62.3 420.7,65.4 421.0,65.7 421.3,61.8 421.6,62.0 421.9,62.1 422.2,60.3 422.5,57.4 422.8,56.7 423.1,65.8 423.4,58.7 423.7,61.3 424.0,60.2 424.3,63.6 424.6,61.9 424.9,61.0 425.2,58.6 425.5,59.2 425.8,65.0 426.1,62.1 426.4,61.0 426.7,59.2 427.0,53.5 427.3,60.9 427.6,61.3 427.9,57.7 428.2,58.4 428.5,61.7 428.8,58.6 429.0,59.9 429.3,56.3 429.6,51.0 429.9,57.5 430.2,58.1 430.5,49.6 430.8,57.4 431.1,57.2 431.4,54.1 431.7,61.8 432.0,58.3 432.3,53.4 432.6,62.5 432.9,53.1 433.2,58.3 433.5,55.0 433.8,51.6 434.1,60.0 434.4,57.0 434.7,56.9 435.0,53.8 435.3,56.9 435.6,54.9 435.9,58.9 436.2,54.4 436.5,60.0 436.8,52.6 437.1,52.0 437.4,54.3 437.7,50.0 438.0,54.3 438.3,50.6 438.6,51.1 438.9,54.1 439.2,51.8 439.5,54.2 439.8,49.7 440.1,52.5 440.4,49.1 440.7,51.2 441.0,45.9 441.3,50.9 441.5,49.1 441.8,52.5 442.1,53.5 442.4,45.6 442.7,44.3 443.0,47.5 443.3,48.1 443.6,50.5 443.9,46.8 444.2,53.1 444.5,39.3 444.8,52.6 445.1,45.7 445.4,54.8 445.7,49.1 446.0,47.9 446.3,41.1 446.6,46.3 446.9,42.8 447.2,48.3 447.5,47.3 447.8,43.5 448.1,47.8 448.4,42.6 448.7,45.2 449.0,42.4 449.3,47.9 449.6,45.4 449.9,46.0 450.2,43.9 450.5,41.7 450.8,46.5 451.1,44.7 451.4,42.1 451.7,45.7 452.0,39.8 452.3,45.4 452.6,38.9 452.9,47.3 453.2,42.3 453.5,44.0 453.7,42.3 454.0,41.9 454.3,44.6 454.6,46.0 454.9,45.4 455.2,39.7 455.5,42.1 455.8,44.3 456.1,43.8 456.4,41.7 456.7,43.4 457.0,42.7 457.3,41.5 457.6,40.7 457.9,43.4 458.2,46.7 458.5,33.9 458.8,40.2 459.1,41.2 459.4,40.1 459.7,41.1 460.0,42.0 460.3,39.3 460.6,38.7 460.9,48.9 461.2,39.5 461.5,46.7 461.8,41.1 462.1,39.8 462.4,36.6 462.7,40.2 463.0,42.8 463.3,42.5 463.6,42.0 463.9,40.2 464.2,40.2 464.5,40.5 464.8,36.3 465.1,39.0 465.4,31.9 465.7,39.9 466.0,34.3 466.2,38.8 466.5,35.1 466.8,34.4 467.1,36.4 467.4,38.1 467.7,38.1 468.0,42.3 468.3,41.6 468.6,35.3 468.9,40.4 469.2,37.1 469.5,36.1 469.8,38.8 470.1,35.5 470.4,33.9 470.7,42.6 471.0,28.5 471.3,28.5 471.6,36.3 471.9,40.6 472.2,35.7 472.5,36.1 472.8,45.8 473.1,35.4 473.4,43.2 473.7,36.7 474.0,35.1 474.3,36.2 474.6,37.3 474.9,36.8 475.2,36.8 475.5,43.8 475.8,36.5 476.1,36.3 476.4,37.0 476.7,32.7 477.0,32.6 477.3,36.3 477.6,38.3 477.9,34.2 478.2,32.7 478.5,31.3 478.7,36.7 479.0,33.6 479.3,35.7 479.6,43.6 479.9,43.4 480.2,34.1 480.5,31.7 480.8,34.5 481.1,33.2 481.4,33.1 481.7,36.6 482.0,31.5 482.3,32.3 482.6,27.3 482.9,33.5 483.2,32.7 483.5,32.6 483.8,33.2 484.1,34.4 484.4,32.1 484.7,29.8 485.0,33.1 485.3,27.6 485.6,41.5 485.9,34.4 486.2,33.2 486.5,32.8 486.8,33.9 487.1,33.8 487.4,35.1 487.7,37.2 488.0,32.7 488.3,30.6 488.6,34.5 488.9,40.4 489.2,36.9 489.5,32.6 489.8,34.6 490.1,31.7 490.4,35.0 490.7,34.1 490.9,32.6 491.2,32.1 491.5,40.3 491.8,34.3 492.1,32.6 492.4,31.4 492.7,28.3 493.0,31.7 493.3,32.7 493.6,30.4 493.9,27.3 494.2,29.9 494.5,30.6 494.8,32.2 495.1,33.5 495.4,29.8 495.7,25.1 496.0,29.3 496.3,31.8 496.6,24.4 496.9,26.3 497.2,34.8 497.5,35.7 497.8,32.4 498.1,31.1 498.4,27.5 498.7,28.5 499.0,28.2 499.3,29.9 499.6,28.1 499.9,35.5 500.2,31.2 500.5,29.1 500.8,27.5 501.1,31.7 501.4,30.3 501.7,34.4 502.0,21.1 502.3,30.0 502.6,28.0 502.9,27.4 503.2,28.4 503.4,30.2 503.7,27.6 504.0,27.7 504.3,28.7 504.6,33.4 504.9,27.1 505.2,29.7 505.5,23.7 505.8,31.3 506.1,26.4 506.4,30.0 506.7,26.4 507.0,24.6 507.3,28.1 507.6,23.7 507.9,30.8 508.2,24.0 508.5,26.3 508.8,23.9 509.1,30.3 509.4,26.6 509.7,28.0 510.0,26.8 510.3,25.3 510.6,27.1 510.9,28.4 511.2,24.3 511.5,20.1 511.8,25.4" fill="none" stroke="#0a0af0" stroke-width="1.0" stroke-linejoin="round"/>
<line x1="311.5" y1="9.5" x2="311.5" y2="153.2" stroke="#000" stroke-width="1.3"/>
<line x1="310.8" y1="152.5" x2="516" y2="152.5" stroke="#000" stroke-width="1.4"/>
<line x1="308.9" y1="152.5" x2="311.5" y2="152.5" stroke="#000" stroke-width="1.1"/>
<text x="304.8" y="155.4" font-size="7.2" font-weight="bold" text-anchor="end">0</text>
<line x1="308.9" y1="126.4" x2="311.5" y2="126.4" stroke="#000" stroke-width="1.1"/>
<text x="304.8" y="129.3" font-size="7.2" font-weight="bold" text-anchor="end">0.2</text>
<line x1="308.9" y1="100.4" x2="311.5" y2="100.4" stroke="#000" stroke-width="1.1"/>
<text x="304.8" y="103.3" font-size="7.2" font-weight="bold" text-anchor="end">0.4</text>
<line x1="308.9" y1="74.3" x2="311.5" y2="74.3" stroke="#000" stroke-width="1.1"/>
<text x="304.8" y="77.2" font-size="7.2" font-weight="bold" text-anchor="end">0.6</text>
<line x1="308.9" y1="48.3" x2="311.5" y2="48.3" stroke="#000" stroke-width="1.1"/>
<text x="304.8" y="51.2" font-size="7.2" font-weight="bold" text-anchor="end">0.8</text>
<line x1="308.9" y1="22.2" x2="311.5" y2="22.2" stroke="#000" stroke-width="1.1"/>
<text x="304.8" y="25.1" font-size="7.2" font-weight="bold" text-anchor="end">1</text>
<line x1="311.1" y1="152.5" x2="311.1" y2="155" stroke="#000" stroke-width="1.1"/>
<text x="311.7" y="164.4" font-size="7.2" font-weight="bold" text-anchor="middle">0</text>
<line x1="330.9" y1="152.5" x2="330.9" y2="155" stroke="#000" stroke-width="1.1"/>
<text x="331.5" y="164.4" font-size="7.2" font-weight="bold" text-anchor="middle">1</text>
<line x1="350.8" y1="152.5" x2="350.8" y2="155" stroke="#000" stroke-width="1.1"/>
<text x="351.4" y="164.4" font-size="7.2" font-weight="bold" text-anchor="middle">2</text>
<line x1="370.6" y1="152.5" x2="370.6" y2="155" stroke="#000" stroke-width="1.1"/>
<text x="371.2" y="164.4" font-size="7.2" font-weight="bold" text-anchor="middle">3</text>
<line x1="390.5" y1="152.5" x2="390.5" y2="155" stroke="#000" stroke-width="1.1"/>
<text x="391.1" y="164.4" font-size="7.2" font-weight="bold" text-anchor="middle">4</text>
<line x1="410.3" y1="152.5" x2="410.3" y2="155" stroke="#000" stroke-width="1.1"/>
<text x="410.9" y="164.4" font-size="7.2" font-weight="bold" text-anchor="middle">5</text>
<line x1="430.1" y1="152.5" x2="430.1" y2="155" stroke="#000" stroke-width="1.1"/>
<text x="430.7" y="164.4" font-size="7.2" font-weight="bold" text-anchor="middle">6</text>
<line x1="450.0" y1="152.5" x2="450.0" y2="155" stroke="#000" stroke-width="1.1"/>
<text x="450.6" y="164.4" font-size="7.2" font-weight="bold" text-anchor="middle">7</text>
<line x1="469.8" y1="152.5" x2="469.8" y2="155" stroke="#000" stroke-width="1.1"/>
<text x="470.4" y="164.4" font-size="7.2" font-weight="bold" text-anchor="middle">8</text>
<line x1="489.7" y1="152.5" x2="489.7" y2="155" stroke="#000" stroke-width="1.1"/>
<text x="490.3" y="164.4" font-size="7.2" font-weight="bold" text-anchor="middle">9</text>
<line x1="509.5" y1="152.5" x2="509.5" y2="155" stroke="#000" stroke-width="1.1"/>
<text x="510.1" y="164.4" font-size="7.2" font-weight="bold" text-anchor="middle">10</text>
<text x="419.3" y="175.9" font-size="10.8" font-weight="bold" text-anchor="middle">Time (min)</text>
<text transform="translate(274.1,80.35) rotate(-90)" font-size="10.8" font-weight="bold" text-anchor="middle">αIIbβ3 activation</text>
<text transform="translate(287.4,80.55) rotate(-90)" font-size="10.88" font-weight="bold" text-anchor="middle">(normalized to max MFI)</text>
<line x1="320.2" y1="21.9" x2="328.3" y2="21.9" stroke="#f01010" stroke-width="1.1"/>
<text x="328.7" y="24.9" font-size="7.4" font-weight="bold">CDGI-/-</text>
<line x1="320.2" y1="32.5" x2="328.3" y2="32.5" stroke="#0a0af0" stroke-width="1.1"/>
<text x="328.7" y="35.8" font-size="7.4" font-weight="bold">Tln WA/fl Cre+</text>
<line x1="320.2" y1="43.1" x2="328.3" y2="43.1" stroke="#858585" stroke-width="1.1"/>
<text x="328.7" y="46.8" font-size="7.4" font-weight="bold">Tln wt/fl Cre+</text>
<text x="0.3" y="202" font-size="12.5">C</text>
<text x="155.2" y="203.2" font-size="10.4" font-weight="bold" text-anchor="middle">Maximum velocity of αIIbβ3</text>
<text x="153.1" y="214.6" font-size="10.0" font-weight="bold" text-anchor="middle">activation</text>
<text transform="translate(23.1,265.6) rotate(-90)" font-size="10.7" font-weight="bold" text-anchor="middle">velocity (ΔMFI/min)</text>
<line x1="66" y1="326.2" x2="69.6" y2="326.2" stroke="#000" stroke-width="1.5"/>
<text x="61.6" y="329.8" font-size="10" text-anchor="end">0</text>
<line x1="66" y1="303.1" x2="69.6" y2="303.1" stroke="#000" stroke-width="1.5"/>
<text x="61.6" y="306.7" font-size="10" text-anchor="end">1000</text>
<line x1="66" y1="280.0" x2="69.6" y2="280.0" stroke="#000" stroke-width="1.5"/>
<text x="61.6" y="283.6" font-size="10" text-anchor="end">2000</text>
<line x1="66" y1="256.9" x2="69.6" y2="256.9" stroke="#000" stroke-width="1.5"/>
<text x="61.6" y="260.5" font-size="10" text-anchor="end">3000</text>
<line x1="66" y1="233.8" x2="69.6" y2="233.8" stroke="#000" stroke-width="1.5"/>
<text x="61.6" y="237.4" font-size="10" text-anchor="end">4000</text>
<line x1="66" y1="210.7" x2="69.6" y2="210.7" stroke="#000" stroke-width="1.5"/>
<text x="61.6" y="214.3" font-size="10" text-anchor="end">5000</text>
<line x1="82.1" y1="236.2" x2="173.0" y2="236.2" stroke="#000" stroke-width="1.3"/>
<polygon points="159.70,230.10 160.55,231.83 162.46,232.10 161.08,233.45 161.40,235.35 159.70,234.45 158.00,235.35 158.32,233.45 156.94,232.10 158.85,231.83" fill="#000"/><polygon points="164.70,230.10 165.55,231.83 167.46,232.10 166.08,233.45 166.40,235.35 164.70,234.45 163.00,235.35 163.32,233.45 161.94,232.10 163.85,231.83" fill="#000"/><polygon points="169.70,230.10 170.55,231.83 172.46,232.10 171.08,233.45 171.40,235.35 169.70,234.45 168.00,235.35 168.32,233.45 166.94,232.10 168.85,231.83" fill="#000"/>
<line x1="82.1" y1="243.3" x2="138.0" y2="243.3" stroke="#000" stroke-width="1.3"/>
<polygon points="124.40,236.90 125.25,238.63 127.16,238.90 125.78,240.25 126.10,242.15 124.40,241.25 122.70,242.15 123.02,240.25 121.64,238.90 123.55,238.63" fill="#000"/><polygon points="129.75,236.90 130.60,238.63 132.51,238.90 131.13,240.25 131.45,242.15 129.75,241.25 128.05,242.15 128.37,240.25 126.99,238.90 128.90,238.63" fill="#000"/><polygon points="135.10,236.90 135.95,238.63 137.86,238.90 136.48,240.25 136.80,242.15 135.10,241.25 133.40,242.15 133.72,240.25 132.34,238.90 134.25,238.63" fill="#000"/>
<line x1="82.1" y1="250.2" x2="118.8" y2="250.2" stroke="#000" stroke-width="1.3"/>
<polygon points="105.90,243.80 106.75,245.53 108.66,245.80 107.28,247.15 107.60,249.05 105.90,248.15 104.20,249.05 104.52,247.15 103.14,245.80 105.05,245.53" fill="#000"/><polygon points="110.90,243.80 111.75,245.53 113.66,245.80 112.28,247.15 112.60,249.05 110.90,248.15 109.20,249.05 109.52,247.15 108.14,245.80 110.05,245.53" fill="#000"/><polygon points="115.90,243.80 116.75,245.53 118.66,245.80 117.28,247.15 117.60,249.05 115.90,248.15 114.20,249.05 114.52,247.15 113.14,245.80 115.05,245.53" fill="#000"/>
<line x1="110.6" y1="275.0" x2="235.6" y2="275.0" stroke="#000" stroke-width="1.3"/>
<text x="228.8" y="273.9" font-size="8.8" font-weight="bold" text-anchor="middle">ns</text>
<line x1="110.6" y1="283.8" x2="174.0" y2="283.8" stroke="#000" stroke-width="1.3"/>
<polygon points="161.10,276.50 161.95,278.23 163.86,278.50 162.48,279.85 162.80,281.75 161.10,280.85 159.40,281.75 159.72,279.85 158.34,278.50 160.25,278.23" fill="#000"/><polygon points="166.10,276.50 166.95,278.23 168.86,278.50 167.48,279.85 167.80,281.75 166.10,280.85 164.40,281.75 164.72,279.85 163.34,278.50 165.25,278.23" fill="#000"/><polygon points="171.10,276.50 171.95,278.23 173.86,278.50 172.48,279.85 172.80,281.75 171.10,280.85 169.40,281.75 169.72,279.85 168.34,278.50 170.25,278.23" fill="#000"/>
<line x1="110.6" y1="292.5" x2="147.1" y2="292.5" stroke="#000" stroke-width="1.3"/>
<polygon points="133.60,286.10 134.45,287.83 136.36,288.10 134.98,289.45 135.30,291.35 133.60,290.45 131.90,291.35 132.22,289.45 130.84,288.10 132.75,287.83" fill="#000"/><polygon points="138.85,286.10 139.70,287.83 141.61,288.10 140.23,289.45 140.55,291.35 138.85,290.45 137.15,291.35 137.47,289.45 136.09,288.10 138.00,287.83" fill="#000"/><polygon points="144.10,286.10 144.95,287.83 146.86,288.10 145.48,289.45 145.80,291.35 144.10,290.45 142.40,291.35 142.72,289.45 141.34,288.10 143.25,287.83" fill="#000"/>
<line x1="137.5" y1="316.1" x2="173.8" y2="316.1" stroke="#000" stroke-width="1.3"/>
<text x="156.2" y="313.7" font-size="8.8" font-weight="bold" text-anchor="middle">ns</text>
<line x1="200.2" y1="221.8" x2="236.5" y2="221.8" stroke="#000" stroke-width="1.3"/>
<polygon points="213.60,215.40 214.45,217.13 216.36,217.40 214.98,218.75 215.30,220.65 213.60,219.75 211.90,220.65 212.22,218.75 210.84,217.40 212.75,217.13" fill="#000"/><polygon points="219.30,215.40 220.15,217.13 222.06,217.40 220.68,218.75 221.00,220.65 219.30,219.75 217.60,220.65 217.92,218.75 216.54,217.40 218.45,217.13" fill="#000"/><polygon points="225.00,215.40 225.85,217.13 227.76,217.40 226.38,218.75 226.70,220.65 225.00,219.75 223.30,220.65 223.62,218.75 222.24,217.40 224.15,217.13" fill="#000"/>
<line x1="84.0" y1="255.5" x2="84.0" y2="260.7" stroke="#000" stroke-width="1.5"/>
<line x1="78.1" y1="255.5" x2="89.8" y2="255.5" stroke="#000" stroke-width="1.5"/>
<rect x="73.3" y="260.7" width="21.5" height="66.0" fill="#888888" stroke="#000" stroke-width="2"/>
<line x1="112.9" y1="297.8" x2="112.9" y2="303.2" stroke="#000" stroke-width="1.5"/>
<line x1="106.9" y1="297.8" x2="119.1" y2="297.8" stroke="#000" stroke-width="1.5"/>
<rect x="102.0" y="303.2" width="21.8" height="23.5" fill="#0800f8" stroke="#000" stroke-width="2"/>
<rect x="131.2" y="322.3" width="21.6" height="4.4" fill="#33dd33" stroke="#000" stroke-width="2"/>
<rect x="160.4" y="322.3" width="21.5" height="4.4" fill="#cc22cc" stroke="#000" stroke-width="2"/>
<line x1="200.2" y1="226.8" x2="200.2" y2="235.6" stroke="#000" stroke-width="1.5"/>
<line x1="194.1" y1="226.8" x2="206.2" y2="226.8" stroke="#000" stroke-width="1.5"/>
<rect x="189.1" y="235.6" width="22.2" height="91.1" fill="#000000" stroke="#000" stroke-width="2"/>
<line x1="229.1" y1="304.0" x2="229.1" y2="306.6" stroke="#000" stroke-width="1.5"/>
<line x1="223.7" y1="304.0" x2="234.6" y2="304.0" stroke="#000" stroke-width="1.5"/>
<rect x="218.7" y="306.6" width="20.8" height="20.1" fill="#f80808" stroke="#000" stroke-width="2"/>
<line x1="69.6" y1="210" x2="69.6" y2="327.7" stroke="#000" stroke-width="2"/>
<line x1="68.6" y1="326.7" x2="243.5" y2="326.7" stroke="#000" stroke-width="2"/>
<line x1="84.0" y1="326.7" x2="84.0" y2="330.7" stroke="#000" stroke-width="1.5"/>
<line x1="112.9" y1="326.7" x2="112.9" y2="330.7" stroke="#000" stroke-width="1.5"/>
<line x1="142.1" y1="326.7" x2="142.1" y2="330.7" stroke="#000" stroke-width="1.5"/>
<line x1="171.2" y1="326.7" x2="171.2" y2="330.7" stroke="#000" stroke-width="1.5"/>
<line x1="200.2" y1="326.7" x2="200.2" y2="330.7" stroke="#000" stroke-width="1.5"/>
<line x1="229.2" y1="326.7" x2="229.2" y2="330.7" stroke="#000" stroke-width="1.5"/>
<text transform="translate(85.4,337.3) rotate(-45)" font-size="10.5" font-weight="bold" text-anchor="end">Tln<tspan font-size="8" dy="-3.3">wt/fl</tspan><tspan dy="3.3">Cre+</tspan></text>
<text transform="translate(114.3,337.3) rotate(-45)" font-size="10.5" font-weight="bold" text-anchor="end">Tln<tspan font-size="8" dy="-3.3">WA/fl</tspan><tspan dy="3.3">Cre+</tspan></text>
<text transform="translate(143.5,337.3) rotate(-45)" font-size="10.5" font-weight="bold" text-anchor="end">Tln<tspan font-size="8" dy="-3.3">LR/fl</tspan><tspan dy="3.3">Cre+</tspan></text>
<text transform="translate(172.6,337.3) rotate(-45)" font-size="10.5" font-weight="bold" text-anchor="end">Tln<tspan font-size="8" dy="-3.3">fl/fl</tspan><tspan dy="3.3">Cre+</tspan></text>
<text transform="translate(201.6,338.9) rotate(-45)" font-size="10.5" font-weight="bold" text-anchor="end">WT</text>
<text transform="translate(230.6,338.9) rotate(-45)" font-size="10.5" font-weight="bold" text-anchor="end">CDGI-/-</text>
</svg></body></html>
